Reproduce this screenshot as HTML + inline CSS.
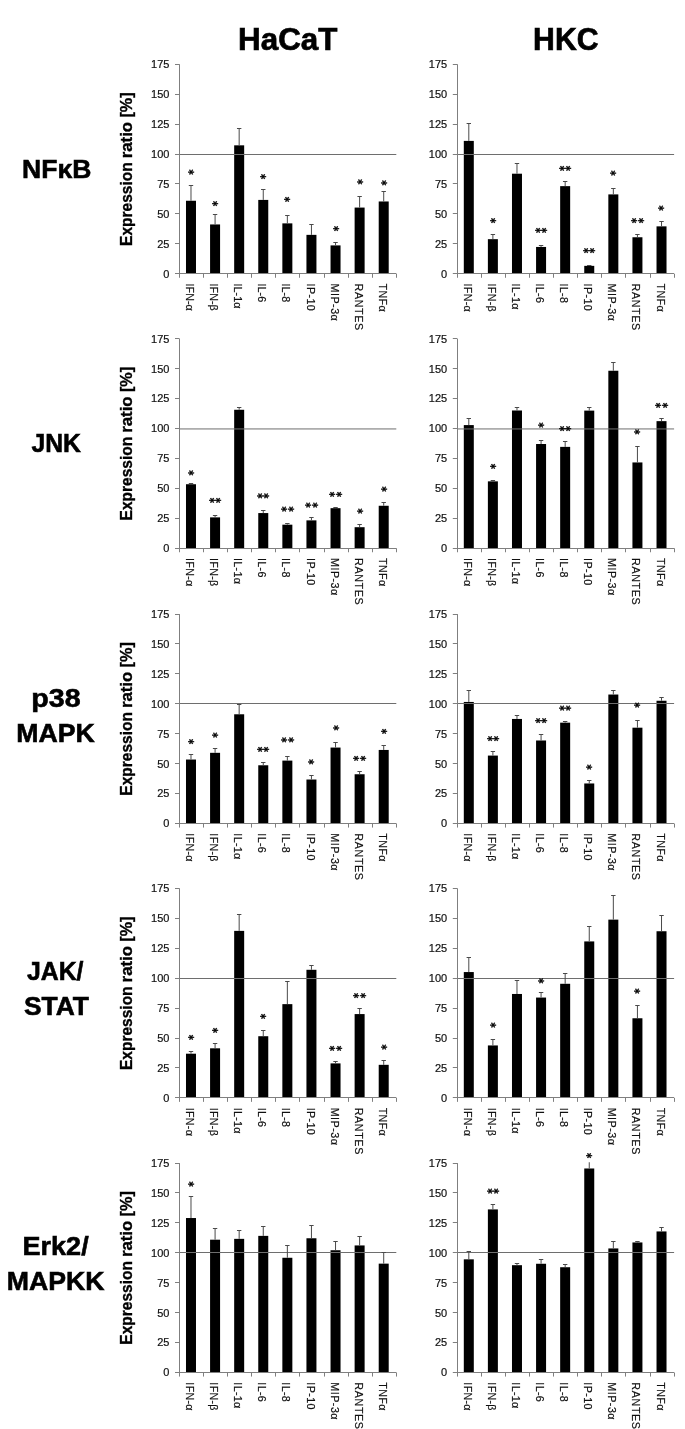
<!DOCTYPE html>
<html lang="en"><head><meta charset="utf-8"><title>Expression ratio - HaCaT / HKC</title>
<style>
html,body{margin:0;padding:0;background:#fff;}
body{width:685px;height:1429px;overflow:hidden;font-family:"Liberation Sans",sans-serif;}
svg{display:block;}
</style></head><body>
<svg width="685" height="1429" viewBox="0 0 685 1429" font-family="'Liberation Sans', sans-serif">
<rect width="685" height="1429" fill="#fff"/>
<text x="287.8" y="50.3" font-size="32" font-weight="bold" text-anchor="middle" textLength="99.4" lengthAdjust="spacingAndGlyphs" stroke="#000" stroke-width="0.7">HaCaT</text>
<text x="565.8" y="50.3" font-size="32" font-weight="bold" text-anchor="middle" textLength="65.4" lengthAdjust="spacingAndGlyphs" stroke="#000" stroke-width="0.7">HKC</text>
<text x="56.7" y="177.6" font-size="26.3" font-weight="bold" text-anchor="middle" textLength="69.3" lengthAdjust="spacingAndGlyphs" stroke="#000" stroke-width="0.6">NFκB</text>
<text x="56.2" y="452.1" font-size="26.3" font-weight="bold" text-anchor="middle" textLength="49.5" lengthAdjust="spacingAndGlyphs" stroke="#000" stroke-width="0.6">JNK</text>
<text x="56.0" y="706.5" font-size="26.3" font-weight="bold" text-anchor="middle" textLength="49.3" lengthAdjust="spacingAndGlyphs" stroke="#000" stroke-width="0.6">p38</text>
<text x="55.5" y="741.5" font-size="26.3" font-weight="bold" text-anchor="middle" textLength="78.5" lengthAdjust="spacingAndGlyphs" stroke="#000" stroke-width="0.6">MAPK</text>
<text x="55.2" y="980.4" font-size="26.3" font-weight="bold" text-anchor="middle" textLength="56.6" lengthAdjust="spacingAndGlyphs" stroke="#000" stroke-width="0.6">JAK/</text>
<text x="56.4" y="1015.1" font-size="26.3" font-weight="bold" text-anchor="middle" textLength="65.0" lengthAdjust="spacingAndGlyphs" stroke="#000" stroke-width="0.6">STAT</text>
<text x="55.6" y="1255.2" font-size="26.3" font-weight="bold" text-anchor="middle" textLength="66.1" lengthAdjust="spacingAndGlyphs" stroke="#000" stroke-width="0.6">Erk2/</text>
<text x="55.6" y="1290.3" font-size="26.3" font-weight="bold" text-anchor="middle" textLength="97.7" lengthAdjust="spacingAndGlyphs" stroke="#000" stroke-width="0.6">MAPKK</text>
<text transform="translate(131.8,244.9) rotate(-90)" font-size="16.2" font-weight="bold" stroke="#000" stroke-width="0.35"><tspan x="-1" textLength="83.6" lengthAdjust="spacingAndGlyphs">Expression</tspan><tspan> </tspan><tspan x="86.6" textLength="36.4" lengthAdjust="spacingAndGlyphs">ratio</tspan><tspan> </tspan><tspan x="127.3" textLength="25.2" lengthAdjust="spacingAndGlyphs">[%]</tspan></text>
<rect x="185.99" y="200.75" width="10.00" height="73.02" fill="#000"/>
<rect x="210.08" y="224.45" width="10.00" height="49.32" fill="#000"/>
<rect x="234.17" y="145.33" width="10.00" height="128.44" fill="#000"/>
<rect x="258.26" y="199.91" width="10.00" height="73.85" fill="#000"/>
<rect x="282.35" y="223.37" width="10.00" height="50.39" fill="#000"/>
<rect x="306.44" y="234.86" width="10.00" height="38.90" fill="#000"/>
<rect x="330.54" y="245.40" width="10.00" height="28.37" fill="#000"/>
<rect x="354.62" y="207.57" width="10.00" height="66.19" fill="#000"/>
<rect x="378.71" y="201.47" width="10.00" height="72.30" fill="#000"/>
<line x1="179.5" y1="154.50" x2="396.3" y2="154.50" stroke="#6e6e6e" stroke-width="1"/>
<line x1="190.99" y1="200.75" x2="190.99" y2="185.79" stroke="#4a4a4a" stroke-width="1"/>
<line x1="188.79" y1="185.50" x2="193.19" y2="185.50" stroke="#4a4a4a" stroke-width="1"/>
<text x="-3.12" y="6.12" transform="translate(191.09 172.14) scale(1.0 0.82) rotate(90)" font-family="'DejaVu Sans', sans-serif" font-size="12.0" font-weight="bold" stroke="#000" stroke-width="0.35">*</text>
<line x1="215.08" y1="224.45" x2="215.08" y2="214.63" stroke="#4a4a4a" stroke-width="1"/>
<line x1="212.88" y1="214.50" x2="217.28" y2="214.50" stroke="#4a4a4a" stroke-width="1"/>
<text x="-3.12" y="6.12" transform="translate(215.18 203.50) scale(1.0 0.82) rotate(90)" font-family="'DejaVu Sans', sans-serif" font-size="12.0" font-weight="bold" stroke="#000" stroke-width="0.35">*</text>
<line x1="239.17" y1="145.33" x2="239.17" y2="128.33" stroke="#4a4a4a" stroke-width="1"/>
<line x1="236.97" y1="128.50" x2="241.37" y2="128.50" stroke="#4a4a4a" stroke-width="1"/>
<line x1="263.26" y1="199.91" x2="263.26" y2="189.74" stroke="#4a4a4a" stroke-width="1"/>
<line x1="261.06" y1="189.50" x2="265.46" y2="189.50" stroke="#4a4a4a" stroke-width="1"/>
<text x="-3.12" y="6.12" transform="translate(263.37 176.57) scale(1.0 0.82) rotate(90)" font-family="'DejaVu Sans', sans-serif" font-size="12.0" font-weight="bold" stroke="#000" stroke-width="0.35">*</text>
<line x1="287.35" y1="223.37" x2="287.35" y2="215.71" stroke="#4a4a4a" stroke-width="1"/>
<line x1="285.15" y1="215.50" x2="289.55" y2="215.50" stroke="#4a4a4a" stroke-width="1"/>
<text x="-3.12" y="6.12" transform="translate(287.45 199.31) scale(1.0 0.82) rotate(90)" font-family="'DejaVu Sans', sans-serif" font-size="12.0" font-weight="bold" stroke="#000" stroke-width="0.35">*</text>
<line x1="311.44" y1="234.86" x2="311.44" y2="224.09" stroke="#4a4a4a" stroke-width="1"/>
<line x1="309.25" y1="224.50" x2="313.64" y2="224.50" stroke="#4a4a4a" stroke-width="1"/>
<line x1="335.54" y1="245.40" x2="335.54" y2="242.64" stroke="#4a4a4a" stroke-width="1"/>
<line x1="333.34" y1="242.50" x2="337.74" y2="242.50" stroke="#4a4a4a" stroke-width="1"/>
<text x="-3.12" y="6.12" transform="translate(335.64 228.52) scale(1.0 0.82) rotate(90)" font-family="'DejaVu Sans', sans-serif" font-size="12.0" font-weight="bold" stroke="#000" stroke-width="0.35">*</text>
<line x1="359.62" y1="207.57" x2="359.62" y2="196.80" stroke="#4a4a4a" stroke-width="1"/>
<line x1="357.43" y1="196.50" x2="361.82" y2="196.50" stroke="#4a4a4a" stroke-width="1"/>
<text x="-3.12" y="6.12" transform="translate(359.73 181.83) scale(1.0 0.82) rotate(90)" font-family="'DejaVu Sans', sans-serif" font-size="12.0" font-weight="bold" stroke="#000" stroke-width="0.35">*</text>
<line x1="383.71" y1="201.47" x2="383.71" y2="191.17" stroke="#4a4a4a" stroke-width="1"/>
<line x1="381.51" y1="191.50" x2="385.91" y2="191.50" stroke="#4a4a4a" stroke-width="1"/>
<text x="-3.12" y="6.12" transform="translate(383.81 182.91) scale(1.0 0.82) rotate(90)" font-family="'DejaVu Sans', sans-serif" font-size="12.0" font-weight="bold" stroke="#000" stroke-width="0.35">*</text>
<line x1="179.5" y1="64.29" x2="179.5" y2="277.77" stroke="#7f7f7f" stroke-width="1"/>
<line x1="175.0" y1="273.50" x2="396.3" y2="273.50" stroke="#7f7f7f" stroke-width="1"/>
<text x="169.4" y="277.62" font-size="11.0" text-anchor="end" fill="#111" stroke="#111" stroke-width="0.2">0</text>
<line x1="175.0" y1="243.50" x2="179.5" y2="243.50" stroke="#7f7f7f" stroke-width="1"/>
<text x="169.4" y="247.69" font-size="11.0" text-anchor="end" fill="#111" stroke="#111" stroke-width="0.2">25</text>
<line x1="175.0" y1="213.50" x2="179.5" y2="213.50" stroke="#7f7f7f" stroke-width="1"/>
<text x="169.4" y="217.76" font-size="11.0" text-anchor="end" fill="#111" stroke="#111" stroke-width="0.2">50</text>
<line x1="175.0" y1="183.50" x2="179.5" y2="183.50" stroke="#7f7f7f" stroke-width="1"/>
<text x="169.4" y="187.83" font-size="11.0" text-anchor="end" fill="#111" stroke="#111" stroke-width="0.2">75</text>
<line x1="175.0" y1="154.50" x2="179.5" y2="154.50" stroke="#7f7f7f" stroke-width="1"/>
<text x="169.4" y="157.90" font-size="11.0" text-anchor="end" fill="#111" stroke="#111" stroke-width="0.2">100</text>
<line x1="175.0" y1="124.50" x2="179.5" y2="124.50" stroke="#7f7f7f" stroke-width="1"/>
<text x="169.4" y="127.97" font-size="11.0" text-anchor="end" fill="#111" stroke="#111" stroke-width="0.2">125</text>
<line x1="175.0" y1="94.50" x2="179.5" y2="94.50" stroke="#7f7f7f" stroke-width="1"/>
<text x="169.4" y="98.04" font-size="11.0" text-anchor="end" fill="#111" stroke="#111" stroke-width="0.2">150</text>
<line x1="175.0" y1="64.50" x2="179.5" y2="64.50" stroke="#7f7f7f" stroke-width="1"/>
<text x="169.4" y="68.11" font-size="11.0" text-anchor="end" fill="#111" stroke="#111" stroke-width="0.2">175</text>
<line x1="203.50" y1="273.77" x2="203.50" y2="277.77" stroke="#7f7f7f" stroke-width="1"/>
<line x1="227.50" y1="273.77" x2="227.50" y2="277.77" stroke="#7f7f7f" stroke-width="1"/>
<line x1="251.50" y1="273.77" x2="251.50" y2="277.77" stroke="#7f7f7f" stroke-width="1"/>
<line x1="275.50" y1="273.77" x2="275.50" y2="277.77" stroke="#7f7f7f" stroke-width="1"/>
<line x1="299.50" y1="273.77" x2="299.50" y2="277.77" stroke="#7f7f7f" stroke-width="1"/>
<line x1="324.50" y1="273.77" x2="324.50" y2="277.77" stroke="#7f7f7f" stroke-width="1"/>
<line x1="348.50" y1="273.77" x2="348.50" y2="277.77" stroke="#7f7f7f" stroke-width="1"/>
<line x1="372.50" y1="273.77" x2="372.50" y2="277.77" stroke="#7f7f7f" stroke-width="1"/>
<line x1="396.50" y1="273.77" x2="396.50" y2="277.77" stroke="#7f7f7f" stroke-width="1"/>
<text transform="translate(186.04,283.57) rotate(90)" font-size="10.7" fill="#111" stroke="#111" stroke-width="0.2" letter-spacing="0.05">IFN-α</text>
<text transform="translate(210.13,283.57) rotate(90)" font-size="10.7" fill="#111" stroke="#111" stroke-width="0.2" letter-spacing="0.05">IFN-β</text>
<text transform="translate(234.22,283.57) rotate(90)" font-size="10.7" fill="#111" stroke="#111" stroke-width="0.2" letter-spacing="0.05">IL-1α</text>
<text transform="translate(258.31,283.57) rotate(90)" font-size="10.7" fill="#111" stroke="#111" stroke-width="0.2" letter-spacing="0.05">IL-6</text>
<text transform="translate(282.40,283.57) rotate(90)" font-size="10.7" fill="#111" stroke="#111" stroke-width="0.2" letter-spacing="0.05">IL-8</text>
<text transform="translate(306.50,283.57) rotate(90)" font-size="10.7" fill="#111" stroke="#111" stroke-width="0.2" letter-spacing="0.40">IP-10</text>
<text transform="translate(330.59,283.57) rotate(90)" font-size="10.7" fill="#111" stroke="#111" stroke-width="0.2" letter-spacing="0.50">MIP-3α</text>
<text transform="translate(354.68,283.57) rotate(90)" font-size="10.7" fill="#111" stroke="#111" stroke-width="0.2" letter-spacing="0.65">RANTES</text>
<text transform="translate(378.76,283.57) rotate(90)" font-size="10.7" fill="#111" stroke="#111" stroke-width="0.2" letter-spacing="0.35">TNFα</text>
<rect x="463.80" y="140.90" width="10.00" height="132.87" fill="#000"/>
<rect x="487.88" y="239.17" width="10.00" height="34.59" fill="#000"/>
<rect x="511.98" y="173.70" width="10.00" height="100.07" fill="#000"/>
<rect x="536.07" y="246.95" width="10.00" height="26.81" fill="#000"/>
<rect x="560.16" y="186.14" width="10.00" height="87.62" fill="#000"/>
<rect x="584.25" y="265.86" width="10.00" height="7.90" fill="#000"/>
<rect x="608.34" y="194.40" width="10.00" height="79.36" fill="#000"/>
<rect x="632.43" y="237.26" width="10.00" height="36.51" fill="#000"/>
<rect x="656.52" y="226.36" width="10.00" height="47.40" fill="#000"/>
<line x1="457.3" y1="154.50" x2="674.1" y2="154.50" stroke="#6e6e6e" stroke-width="1"/>
<line x1="468.80" y1="140.90" x2="468.80" y2="123.18" stroke="#4a4a4a" stroke-width="1"/>
<line x1="466.60" y1="123.50" x2="471.00" y2="123.50" stroke="#4a4a4a" stroke-width="1"/>
<line x1="492.88" y1="239.17" x2="492.88" y2="234.62" stroke="#4a4a4a" stroke-width="1"/>
<line x1="490.69" y1="234.50" x2="495.08" y2="234.50" stroke="#4a4a4a" stroke-width="1"/>
<text x="-3.12" y="6.12" transform="translate(492.99 220.50) scale(1.0 0.82) rotate(90)" font-family="'DejaVu Sans', sans-serif" font-size="12.0" font-weight="bold" stroke="#000" stroke-width="0.35">*</text>
<line x1="516.98" y1="173.70" x2="516.98" y2="163.40" stroke="#4a4a4a" stroke-width="1"/>
<line x1="514.77" y1="163.50" x2="519.18" y2="163.50" stroke="#4a4a4a" stroke-width="1"/>
<line x1="541.07" y1="246.95" x2="541.07" y2="245.87" stroke="#4a4a4a" stroke-width="1"/>
<line x1="538.87" y1="245.50" x2="543.27" y2="245.50" stroke="#4a4a4a" stroke-width="1"/>
<text x="-3.12" y="6.12" transform="translate(537.92 230.19) scale(1.0 0.82) rotate(90)" font-family="'DejaVu Sans', sans-serif" font-size="12.0" font-weight="bold" stroke="#000" stroke-width="0.35">*</text>
<text x="-3.12" y="6.12" transform="translate(544.42 230.19) scale(1.0 0.82) rotate(90)" font-family="'DejaVu Sans', sans-serif" font-size="12.0" font-weight="bold" stroke="#000" stroke-width="0.35">*</text>
<line x1="565.16" y1="186.14" x2="565.16" y2="181.60" stroke="#4a4a4a" stroke-width="1"/>
<line x1="562.96" y1="181.50" x2="567.36" y2="181.50" stroke="#4a4a4a" stroke-width="1"/>
<text x="-3.12" y="6.12" transform="translate(562.01 168.19) scale(1.0 0.82) rotate(90)" font-family="'DejaVu Sans', sans-serif" font-size="12.0" font-weight="bold" stroke="#000" stroke-width="0.35">*</text>
<text x="-3.12" y="6.12" transform="translate(568.51 168.19) scale(1.0 0.82) rotate(90)" font-family="'DejaVu Sans', sans-serif" font-size="12.0" font-weight="bold" stroke="#000" stroke-width="0.35">*</text>
<line x1="589.25" y1="265.86" x2="589.25" y2="265.15" stroke="#4a4a4a" stroke-width="1"/>
<line x1="587.05" y1="265.50" x2="591.45" y2="265.50" stroke="#4a4a4a" stroke-width="1"/>
<text x="-3.12" y="6.12" transform="translate(586.10 250.66) scale(1.0 0.82) rotate(90)" font-family="'DejaVu Sans', sans-serif" font-size="12.0" font-weight="bold" stroke="#000" stroke-width="0.35">*</text>
<text x="-3.12" y="6.12" transform="translate(592.60 250.66) scale(1.0 0.82) rotate(90)" font-family="'DejaVu Sans', sans-serif" font-size="12.0" font-weight="bold" stroke="#000" stroke-width="0.35">*</text>
<line x1="613.34" y1="194.40" x2="613.34" y2="188.06" stroke="#4a4a4a" stroke-width="1"/>
<line x1="611.13" y1="188.50" x2="615.54" y2="188.50" stroke="#4a4a4a" stroke-width="1"/>
<text x="-3.12" y="6.12" transform="translate(613.44 173.10) scale(1.0 0.82) rotate(90)" font-family="'DejaVu Sans', sans-serif" font-size="12.0" font-weight="bold" stroke="#000" stroke-width="0.35">*</text>
<line x1="637.43" y1="237.26" x2="637.43" y2="234.62" stroke="#4a4a4a" stroke-width="1"/>
<line x1="635.23" y1="234.50" x2="639.63" y2="234.50" stroke="#4a4a4a" stroke-width="1"/>
<text x="-3.12" y="6.12" transform="translate(634.28 220.50) scale(1.0 0.82) rotate(90)" font-family="'DejaVu Sans', sans-serif" font-size="12.0" font-weight="bold" stroke="#000" stroke-width="0.35">*</text>
<text x="-3.12" y="6.12" transform="translate(640.78 220.50) scale(1.0 0.82) rotate(90)" font-family="'DejaVu Sans', sans-serif" font-size="12.0" font-weight="bold" stroke="#000" stroke-width="0.35">*</text>
<line x1="661.52" y1="226.36" x2="661.52" y2="221.10" stroke="#4a4a4a" stroke-width="1"/>
<line x1="659.32" y1="221.50" x2="663.72" y2="221.50" stroke="#4a4a4a" stroke-width="1"/>
<text x="-3.12" y="6.12" transform="translate(661.62 208.17) scale(1.0 0.82) rotate(90)" font-family="'DejaVu Sans', sans-serif" font-size="12.0" font-weight="bold" stroke="#000" stroke-width="0.35">*</text>
<line x1="457.5" y1="64.29" x2="457.5" y2="277.77" stroke="#7f7f7f" stroke-width="1"/>
<line x1="452.8" y1="273.50" x2="674.1" y2="273.50" stroke="#7f7f7f" stroke-width="1"/>
<text x="447.2" y="277.62" font-size="11.0" text-anchor="end" fill="#111" stroke="#111" stroke-width="0.2">0</text>
<line x1="452.8" y1="243.50" x2="457.3" y2="243.50" stroke="#7f7f7f" stroke-width="1"/>
<text x="447.2" y="247.69" font-size="11.0" text-anchor="end" fill="#111" stroke="#111" stroke-width="0.2">25</text>
<line x1="452.8" y1="213.50" x2="457.3" y2="213.50" stroke="#7f7f7f" stroke-width="1"/>
<text x="447.2" y="217.76" font-size="11.0" text-anchor="end" fill="#111" stroke="#111" stroke-width="0.2">50</text>
<line x1="452.8" y1="183.50" x2="457.3" y2="183.50" stroke="#7f7f7f" stroke-width="1"/>
<text x="447.2" y="187.83" font-size="11.0" text-anchor="end" fill="#111" stroke="#111" stroke-width="0.2">75</text>
<line x1="452.8" y1="154.50" x2="457.3" y2="154.50" stroke="#7f7f7f" stroke-width="1"/>
<text x="447.2" y="157.90" font-size="11.0" text-anchor="end" fill="#111" stroke="#111" stroke-width="0.2">100</text>
<line x1="452.8" y1="124.50" x2="457.3" y2="124.50" stroke="#7f7f7f" stroke-width="1"/>
<text x="447.2" y="127.97" font-size="11.0" text-anchor="end" fill="#111" stroke="#111" stroke-width="0.2">125</text>
<line x1="452.8" y1="94.50" x2="457.3" y2="94.50" stroke="#7f7f7f" stroke-width="1"/>
<text x="447.2" y="98.04" font-size="11.0" text-anchor="end" fill="#111" stroke="#111" stroke-width="0.2">150</text>
<line x1="452.8" y1="64.50" x2="457.3" y2="64.50" stroke="#7f7f7f" stroke-width="1"/>
<text x="447.2" y="68.11" font-size="11.0" text-anchor="end" fill="#111" stroke="#111" stroke-width="0.2">175</text>
<line x1="481.50" y1="273.77" x2="481.50" y2="277.77" stroke="#7f7f7f" stroke-width="1"/>
<line x1="505.50" y1="273.77" x2="505.50" y2="277.77" stroke="#7f7f7f" stroke-width="1"/>
<line x1="529.50" y1="273.77" x2="529.50" y2="277.77" stroke="#7f7f7f" stroke-width="1"/>
<line x1="553.50" y1="273.77" x2="553.50" y2="277.77" stroke="#7f7f7f" stroke-width="1"/>
<line x1="577.50" y1="273.77" x2="577.50" y2="277.77" stroke="#7f7f7f" stroke-width="1"/>
<line x1="601.50" y1="273.77" x2="601.50" y2="277.77" stroke="#7f7f7f" stroke-width="1"/>
<line x1="625.50" y1="273.77" x2="625.50" y2="277.77" stroke="#7f7f7f" stroke-width="1"/>
<line x1="650.50" y1="273.77" x2="650.50" y2="277.77" stroke="#7f7f7f" stroke-width="1"/>
<line x1="674.50" y1="273.77" x2="674.50" y2="277.77" stroke="#7f7f7f" stroke-width="1"/>
<text transform="translate(463.85,283.57) rotate(90)" font-size="10.7" fill="#111" stroke="#111" stroke-width="0.2" letter-spacing="0.30">IFN-α</text>
<text transform="translate(487.94,283.57) rotate(90)" font-size="10.7" fill="#111" stroke="#111" stroke-width="0.2" letter-spacing="0.30">IFN-β</text>
<text transform="translate(512.02,283.57) rotate(90)" font-size="10.7" fill="#111" stroke="#111" stroke-width="0.2" letter-spacing="0.30">IL-1α</text>
<text transform="translate(536.12,283.57) rotate(90)" font-size="10.7" fill="#111" stroke="#111" stroke-width="0.2" letter-spacing="0.30">IL-6</text>
<text transform="translate(560.21,283.57) rotate(90)" font-size="10.7" fill="#111" stroke="#111" stroke-width="0.2" letter-spacing="0.30">IL-8</text>
<text transform="translate(584.30,283.57) rotate(90)" font-size="10.7" fill="#111" stroke="#111" stroke-width="0.2" letter-spacing="0.40">IP-10</text>
<text transform="translate(608.38,283.57) rotate(90)" font-size="10.7" fill="#111" stroke="#111" stroke-width="0.2" letter-spacing="0.50">MIP-3α</text>
<text transform="translate(632.48,283.57) rotate(90)" font-size="10.7" fill="#111" stroke="#111" stroke-width="0.2" letter-spacing="0.65">RANTES</text>
<text transform="translate(656.57,283.57) rotate(90)" font-size="10.7" fill="#111" stroke="#111" stroke-width="0.2" letter-spacing="0.35">TNFα</text>
<text transform="translate(131.8,519.4) rotate(-90)" font-size="16.2" font-weight="bold" stroke="#000" stroke-width="0.35"><tspan x="-1" textLength="83.6" lengthAdjust="spacingAndGlyphs">Expression</tspan><tspan> </tspan><tspan x="86.6" textLength="36.4" lengthAdjust="spacingAndGlyphs">ratio</tspan><tspan> </tspan><tspan x="127.3" textLength="25.2" lengthAdjust="spacingAndGlyphs">[%]</tspan></text>
<rect x="185.99" y="484.23" width="10.00" height="64.04" fill="#000"/>
<rect x="210.08" y="517.38" width="10.00" height="30.88" fill="#000"/>
<rect x="234.17" y="409.77" width="10.00" height="138.49" fill="#000"/>
<rect x="258.26" y="513.07" width="10.00" height="35.19" fill="#000"/>
<rect x="282.35" y="524.68" width="10.00" height="23.58" fill="#000"/>
<rect x="306.44" y="520.37" width="10.00" height="27.89" fill="#000"/>
<rect x="330.54" y="508.17" width="10.00" height="40.10" fill="#000"/>
<rect x="354.62" y="527.20" width="10.00" height="21.07" fill="#000"/>
<rect x="378.71" y="505.77" width="10.00" height="42.49" fill="#000"/>
<line x1="179.5" y1="428.95" x2="396.3" y2="428.95" stroke="#6e6e6e" stroke-width="1"/>
<line x1="190.99" y1="484.23" x2="190.99" y2="483.27" stroke="#4a4a4a" stroke-width="1"/>
<line x1="188.79" y1="483.50" x2="193.19" y2="483.50" stroke="#4a4a4a" stroke-width="1"/>
<text x="-3.12" y="6.12" transform="translate(191.09 472.73) scale(1.0 0.82) rotate(90)" font-family="'DejaVu Sans', sans-serif" font-size="12.0" font-weight="bold" stroke="#000" stroke-width="0.35">*</text>
<line x1="215.08" y1="517.38" x2="215.08" y2="515.23" stroke="#4a4a4a" stroke-width="1"/>
<line x1="212.88" y1="515.50" x2="217.28" y2="515.50" stroke="#4a4a4a" stroke-width="1"/>
<text x="-3.12" y="6.12" transform="translate(211.93 500.26) scale(1.0 0.82) rotate(90)" font-family="'DejaVu Sans', sans-serif" font-size="12.0" font-weight="bold" stroke="#000" stroke-width="0.35">*</text>
<text x="-3.12" y="6.12" transform="translate(218.43 500.26) scale(1.0 0.82) rotate(90)" font-family="'DejaVu Sans', sans-serif" font-size="12.0" font-weight="bold" stroke="#000" stroke-width="0.35">*</text>
<line x1="239.17" y1="409.77" x2="239.17" y2="407.62" stroke="#4a4a4a" stroke-width="1"/>
<line x1="236.97" y1="407.50" x2="241.37" y2="407.50" stroke="#4a4a4a" stroke-width="1"/>
<line x1="263.26" y1="513.07" x2="263.26" y2="510.44" stroke="#4a4a4a" stroke-width="1"/>
<line x1="261.06" y1="510.50" x2="265.46" y2="510.50" stroke="#4a4a4a" stroke-width="1"/>
<text x="-3.12" y="6.12" transform="translate(260.12 495.83) scale(1.0 0.82) rotate(90)" font-family="'DejaVu Sans', sans-serif" font-size="12.0" font-weight="bold" stroke="#000" stroke-width="0.35">*</text>
<text x="-3.12" y="6.12" transform="translate(266.62 495.83) scale(1.0 0.82) rotate(90)" font-family="'DejaVu Sans', sans-serif" font-size="12.0" font-weight="bold" stroke="#000" stroke-width="0.35">*</text>
<line x1="287.35" y1="524.68" x2="287.35" y2="523.85" stroke="#4a4a4a" stroke-width="1"/>
<line x1="285.15" y1="523.50" x2="289.55" y2="523.50" stroke="#4a4a4a" stroke-width="1"/>
<text x="-3.12" y="6.12" transform="translate(284.20 509.00) scale(1.0 0.82) rotate(90)" font-family="'DejaVu Sans', sans-serif" font-size="12.0" font-weight="bold" stroke="#000" stroke-width="0.35">*</text>
<text x="-3.12" y="6.12" transform="translate(290.70 509.00) scale(1.0 0.82) rotate(90)" font-family="'DejaVu Sans', sans-serif" font-size="12.0" font-weight="bold" stroke="#000" stroke-width="0.35">*</text>
<line x1="311.44" y1="520.37" x2="311.44" y2="517.86" stroke="#4a4a4a" stroke-width="1"/>
<line x1="309.25" y1="517.50" x2="313.64" y2="517.50" stroke="#4a4a4a" stroke-width="1"/>
<text x="-3.12" y="6.12" transform="translate(308.30 505.17) scale(1.0 0.82) rotate(90)" font-family="'DejaVu Sans', sans-serif" font-size="12.0" font-weight="bold" stroke="#000" stroke-width="0.35">*</text>
<text x="-3.12" y="6.12" transform="translate(314.80 505.17) scale(1.0 0.82) rotate(90)" font-family="'DejaVu Sans', sans-serif" font-size="12.0" font-weight="bold" stroke="#000" stroke-width="0.35">*</text>
<line x1="335.54" y1="508.17" x2="335.54" y2="507.33" stroke="#4a4a4a" stroke-width="1"/>
<line x1="333.34" y1="507.50" x2="337.74" y2="507.50" stroke="#4a4a4a" stroke-width="1"/>
<text x="-3.12" y="6.12" transform="translate(332.39 494.40) scale(1.0 0.82) rotate(90)" font-family="'DejaVu Sans', sans-serif" font-size="12.0" font-weight="bold" stroke="#000" stroke-width="0.35">*</text>
<text x="-3.12" y="6.12" transform="translate(338.89 494.40) scale(1.0 0.82) rotate(90)" font-family="'DejaVu Sans', sans-serif" font-size="12.0" font-weight="bold" stroke="#000" stroke-width="0.35">*</text>
<line x1="359.62" y1="527.20" x2="359.62" y2="524.56" stroke="#4a4a4a" stroke-width="1"/>
<line x1="357.43" y1="524.50" x2="361.82" y2="524.50" stroke="#4a4a4a" stroke-width="1"/>
<text x="-3.12" y="6.12" transform="translate(359.73 511.16) scale(1.0 0.82) rotate(90)" font-family="'DejaVu Sans', sans-serif" font-size="12.0" font-weight="bold" stroke="#000" stroke-width="0.35">*</text>
<line x1="383.71" y1="505.77" x2="383.71" y2="502.54" stroke="#4a4a4a" stroke-width="1"/>
<line x1="381.51" y1="502.50" x2="385.91" y2="502.50" stroke="#4a4a4a" stroke-width="1"/>
<text x="-3.12" y="6.12" transform="translate(383.81 489.13) scale(1.0 0.82) rotate(90)" font-family="'DejaVu Sans', sans-serif" font-size="12.0" font-weight="bold" stroke="#000" stroke-width="0.35">*</text>
<line x1="179.5" y1="338.79" x2="179.5" y2="552.26" stroke="#7f7f7f" stroke-width="1"/>
<line x1="175.0" y1="548.50" x2="396.3" y2="548.50" stroke="#7f7f7f" stroke-width="1"/>
<text x="169.4" y="552.12" font-size="11.0" text-anchor="end" fill="#111" stroke="#111" stroke-width="0.2">0</text>
<line x1="175.0" y1="518.50" x2="179.5" y2="518.50" stroke="#7f7f7f" stroke-width="1"/>
<text x="169.4" y="522.19" font-size="11.0" text-anchor="end" fill="#111" stroke="#111" stroke-width="0.2">25</text>
<line x1="175.0" y1="488.50" x2="179.5" y2="488.50" stroke="#7f7f7f" stroke-width="1"/>
<text x="169.4" y="492.25" font-size="11.0" text-anchor="end" fill="#111" stroke="#111" stroke-width="0.2">50</text>
<line x1="175.0" y1="458.50" x2="179.5" y2="458.50" stroke="#7f7f7f" stroke-width="1"/>
<text x="169.4" y="462.33" font-size="11.0" text-anchor="end" fill="#111" stroke="#111" stroke-width="0.2">75</text>
<line x1="175.0" y1="428.50" x2="179.5" y2="428.50" stroke="#7f7f7f" stroke-width="1"/>
<text x="169.4" y="432.39" font-size="11.0" text-anchor="end" fill="#111" stroke="#111" stroke-width="0.2">100</text>
<line x1="175.0" y1="398.50" x2="179.5" y2="398.50" stroke="#7f7f7f" stroke-width="1"/>
<text x="169.4" y="402.47" font-size="11.0" text-anchor="end" fill="#111" stroke="#111" stroke-width="0.2">125</text>
<line x1="175.0" y1="368.50" x2="179.5" y2="368.50" stroke="#7f7f7f" stroke-width="1"/>
<text x="169.4" y="372.54" font-size="11.0" text-anchor="end" fill="#111" stroke="#111" stroke-width="0.2">150</text>
<line x1="175.0" y1="338.50" x2="179.5" y2="338.50" stroke="#7f7f7f" stroke-width="1"/>
<text x="169.4" y="342.61" font-size="11.0" text-anchor="end" fill="#111" stroke="#111" stroke-width="0.2">175</text>
<line x1="203.50" y1="548.26" x2="203.50" y2="552.26" stroke="#7f7f7f" stroke-width="1"/>
<line x1="227.50" y1="548.26" x2="227.50" y2="552.26" stroke="#7f7f7f" stroke-width="1"/>
<line x1="251.50" y1="548.26" x2="251.50" y2="552.26" stroke="#7f7f7f" stroke-width="1"/>
<line x1="275.50" y1="548.26" x2="275.50" y2="552.26" stroke="#7f7f7f" stroke-width="1"/>
<line x1="299.50" y1="548.26" x2="299.50" y2="552.26" stroke="#7f7f7f" stroke-width="1"/>
<line x1="324.50" y1="548.26" x2="324.50" y2="552.26" stroke="#7f7f7f" stroke-width="1"/>
<line x1="348.50" y1="548.26" x2="348.50" y2="552.26" stroke="#7f7f7f" stroke-width="1"/>
<line x1="372.50" y1="548.26" x2="372.50" y2="552.26" stroke="#7f7f7f" stroke-width="1"/>
<line x1="396.50" y1="548.26" x2="396.50" y2="552.26" stroke="#7f7f7f" stroke-width="1"/>
<text transform="translate(186.04,558.06) rotate(90)" font-size="10.7" fill="#111" stroke="#111" stroke-width="0.2" letter-spacing="0.30">IFN-α</text>
<text transform="translate(210.13,558.06) rotate(90)" font-size="10.7" fill="#111" stroke="#111" stroke-width="0.2" letter-spacing="0.30">IFN-β</text>
<text transform="translate(234.22,558.06) rotate(90)" font-size="10.7" fill="#111" stroke="#111" stroke-width="0.2" letter-spacing="0.30">IL-1α</text>
<text transform="translate(258.31,558.06) rotate(90)" font-size="10.7" fill="#111" stroke="#111" stroke-width="0.2" letter-spacing="0.30">IL-6</text>
<text transform="translate(282.40,558.06) rotate(90)" font-size="10.7" fill="#111" stroke="#111" stroke-width="0.2" letter-spacing="0.30">IL-8</text>
<text transform="translate(306.50,558.06) rotate(90)" font-size="10.7" fill="#111" stroke="#111" stroke-width="0.2" letter-spacing="0.40">IP-10</text>
<text transform="translate(330.59,558.06) rotate(90)" font-size="10.7" fill="#111" stroke="#111" stroke-width="0.2" letter-spacing="0.50">MIP-3α</text>
<text transform="translate(354.68,558.06) rotate(90)" font-size="10.7" fill="#111" stroke="#111" stroke-width="0.2" letter-spacing="0.65">RANTES</text>
<text transform="translate(378.76,558.06) rotate(90)" font-size="10.7" fill="#111" stroke="#111" stroke-width="0.2" letter-spacing="0.35">TNFα</text>
<rect x="463.80" y="425.09" width="10.00" height="123.17" fill="#000"/>
<rect x="487.88" y="481.35" width="10.00" height="66.91" fill="#000"/>
<rect x="511.98" y="410.49" width="10.00" height="137.77" fill="#000"/>
<rect x="536.07" y="444.01" width="10.00" height="104.26" fill="#000"/>
<rect x="560.16" y="446.88" width="10.00" height="101.39" fill="#000"/>
<rect x="584.25" y="410.61" width="10.00" height="137.65" fill="#000"/>
<rect x="608.34" y="370.75" width="10.00" height="177.52" fill="#000"/>
<rect x="632.43" y="462.44" width="10.00" height="85.82" fill="#000"/>
<rect x="656.52" y="421.14" width="10.00" height="127.12" fill="#000"/>
<line x1="457.3" y1="428.95" x2="674.1" y2="428.95" stroke="#6e6e6e" stroke-width="1"/>
<line x1="468.80" y1="425.09" x2="468.80" y2="418.87" stroke="#4a4a4a" stroke-width="1"/>
<line x1="466.60" y1="418.50" x2="471.00" y2="418.50" stroke="#4a4a4a" stroke-width="1"/>
<line x1="492.88" y1="481.35" x2="492.88" y2="480.40" stroke="#4a4a4a" stroke-width="1"/>
<line x1="490.69" y1="480.50" x2="495.08" y2="480.50" stroke="#4a4a4a" stroke-width="1"/>
<text x="-3.12" y="6.12" transform="translate(492.99 466.27) scale(1.0 0.82) rotate(90)" font-family="'DejaVu Sans', sans-serif" font-size="12.0" font-weight="bold" stroke="#000" stroke-width="0.35">*</text>
<line x1="516.98" y1="410.49" x2="516.98" y2="407.62" stroke="#4a4a4a" stroke-width="1"/>
<line x1="514.77" y1="407.50" x2="519.18" y2="407.50" stroke="#4a4a4a" stroke-width="1"/>
<line x1="541.07" y1="444.01" x2="541.07" y2="440.53" stroke="#4a4a4a" stroke-width="1"/>
<line x1="538.87" y1="440.50" x2="543.27" y2="440.50" stroke="#4a4a4a" stroke-width="1"/>
<text x="-3.12" y="6.12" transform="translate(541.17 424.97) scale(1.0 0.82) rotate(90)" font-family="'DejaVu Sans', sans-serif" font-size="12.0" font-weight="bold" stroke="#000" stroke-width="0.35">*</text>
<line x1="565.16" y1="446.88" x2="565.16" y2="441.37" stroke="#4a4a4a" stroke-width="1"/>
<line x1="562.96" y1="441.50" x2="567.36" y2="441.50" stroke="#4a4a4a" stroke-width="1"/>
<text x="-3.12" y="6.12" transform="translate(562.01 428.44) scale(1.0 0.82) rotate(90)" font-family="'DejaVu Sans', sans-serif" font-size="12.0" font-weight="bold" stroke="#000" stroke-width="0.35">*</text>
<text x="-3.12" y="6.12" transform="translate(568.51 428.44) scale(1.0 0.82) rotate(90)" font-family="'DejaVu Sans', sans-serif" font-size="12.0" font-weight="bold" stroke="#000" stroke-width="0.35">*</text>
<line x1="589.25" y1="410.61" x2="589.25" y2="407.14" stroke="#4a4a4a" stroke-width="1"/>
<line x1="587.05" y1="407.50" x2="591.45" y2="407.50" stroke="#4a4a4a" stroke-width="1"/>
<line x1="613.34" y1="370.75" x2="613.34" y2="362.73" stroke="#4a4a4a" stroke-width="1"/>
<line x1="611.13" y1="362.50" x2="615.54" y2="362.50" stroke="#4a4a4a" stroke-width="1"/>
<line x1="637.43" y1="462.44" x2="637.43" y2="446.28" stroke="#4a4a4a" stroke-width="1"/>
<line x1="635.23" y1="446.50" x2="639.63" y2="446.50" stroke="#4a4a4a" stroke-width="1"/>
<text x="-3.12" y="6.12" transform="translate(637.53 431.68) scale(1.0 0.82) rotate(90)" font-family="'DejaVu Sans', sans-serif" font-size="12.0" font-weight="bold" stroke="#000" stroke-width="0.35">*</text>
<line x1="661.52" y1="421.14" x2="661.52" y2="418.03" stroke="#4a4a4a" stroke-width="1"/>
<line x1="659.32" y1="418.50" x2="663.72" y2="418.50" stroke="#4a4a4a" stroke-width="1"/>
<text x="-3.12" y="6.12" transform="translate(658.37 405.34) scale(1.0 0.82) rotate(90)" font-family="'DejaVu Sans', sans-serif" font-size="12.0" font-weight="bold" stroke="#000" stroke-width="0.35">*</text>
<text x="-3.12" y="6.12" transform="translate(664.87 405.34) scale(1.0 0.82) rotate(90)" font-family="'DejaVu Sans', sans-serif" font-size="12.0" font-weight="bold" stroke="#000" stroke-width="0.35">*</text>
<line x1="457.5" y1="338.79" x2="457.5" y2="552.26" stroke="#7f7f7f" stroke-width="1"/>
<line x1="452.8" y1="548.50" x2="674.1" y2="548.50" stroke="#7f7f7f" stroke-width="1"/>
<text x="447.2" y="552.12" font-size="11.0" text-anchor="end" fill="#111" stroke="#111" stroke-width="0.2">0</text>
<line x1="452.8" y1="518.50" x2="457.3" y2="518.50" stroke="#7f7f7f" stroke-width="1"/>
<text x="447.2" y="522.19" font-size="11.0" text-anchor="end" fill="#111" stroke="#111" stroke-width="0.2">25</text>
<line x1="452.8" y1="488.50" x2="457.3" y2="488.50" stroke="#7f7f7f" stroke-width="1"/>
<text x="447.2" y="492.25" font-size="11.0" text-anchor="end" fill="#111" stroke="#111" stroke-width="0.2">50</text>
<line x1="452.8" y1="458.50" x2="457.3" y2="458.50" stroke="#7f7f7f" stroke-width="1"/>
<text x="447.2" y="462.33" font-size="11.0" text-anchor="end" fill="#111" stroke="#111" stroke-width="0.2">75</text>
<line x1="452.8" y1="428.50" x2="457.3" y2="428.50" stroke="#7f7f7f" stroke-width="1"/>
<text x="447.2" y="432.39" font-size="11.0" text-anchor="end" fill="#111" stroke="#111" stroke-width="0.2">100</text>
<line x1="452.8" y1="398.50" x2="457.3" y2="398.50" stroke="#7f7f7f" stroke-width="1"/>
<text x="447.2" y="402.47" font-size="11.0" text-anchor="end" fill="#111" stroke="#111" stroke-width="0.2">125</text>
<line x1="452.8" y1="368.50" x2="457.3" y2="368.50" stroke="#7f7f7f" stroke-width="1"/>
<text x="447.2" y="372.54" font-size="11.0" text-anchor="end" fill="#111" stroke="#111" stroke-width="0.2">150</text>
<line x1="452.8" y1="338.50" x2="457.3" y2="338.50" stroke="#7f7f7f" stroke-width="1"/>
<text x="447.2" y="342.61" font-size="11.0" text-anchor="end" fill="#111" stroke="#111" stroke-width="0.2">175</text>
<line x1="481.50" y1="548.26" x2="481.50" y2="552.26" stroke="#7f7f7f" stroke-width="1"/>
<line x1="505.50" y1="548.26" x2="505.50" y2="552.26" stroke="#7f7f7f" stroke-width="1"/>
<line x1="529.50" y1="548.26" x2="529.50" y2="552.26" stroke="#7f7f7f" stroke-width="1"/>
<line x1="553.50" y1="548.26" x2="553.50" y2="552.26" stroke="#7f7f7f" stroke-width="1"/>
<line x1="577.50" y1="548.26" x2="577.50" y2="552.26" stroke="#7f7f7f" stroke-width="1"/>
<line x1="601.50" y1="548.26" x2="601.50" y2="552.26" stroke="#7f7f7f" stroke-width="1"/>
<line x1="625.50" y1="548.26" x2="625.50" y2="552.26" stroke="#7f7f7f" stroke-width="1"/>
<line x1="650.50" y1="548.26" x2="650.50" y2="552.26" stroke="#7f7f7f" stroke-width="1"/>
<line x1="674.50" y1="548.26" x2="674.50" y2="552.26" stroke="#7f7f7f" stroke-width="1"/>
<text transform="translate(463.85,558.06) rotate(90)" font-size="10.7" fill="#111" stroke="#111" stroke-width="0.2" letter-spacing="0.30">IFN-α</text>
<text transform="translate(487.94,558.06) rotate(90)" font-size="10.7" fill="#111" stroke="#111" stroke-width="0.2" letter-spacing="0.30">IFN-β</text>
<text transform="translate(512.02,558.06) rotate(90)" font-size="10.7" fill="#111" stroke="#111" stroke-width="0.2" letter-spacing="0.30">IL-1α</text>
<text transform="translate(536.12,558.06) rotate(90)" font-size="10.7" fill="#111" stroke="#111" stroke-width="0.2" letter-spacing="0.30">IL-6</text>
<text transform="translate(560.21,558.06) rotate(90)" font-size="10.7" fill="#111" stroke="#111" stroke-width="0.2" letter-spacing="0.30">IL-8</text>
<text transform="translate(584.30,558.06) rotate(90)" font-size="10.7" fill="#111" stroke="#111" stroke-width="0.2" letter-spacing="0.40">IP-10</text>
<text transform="translate(608.38,558.06) rotate(90)" font-size="10.7" fill="#111" stroke="#111" stroke-width="0.2" letter-spacing="0.50">MIP-3α</text>
<text transform="translate(632.48,558.06) rotate(90)" font-size="10.7" fill="#111" stroke="#111" stroke-width="0.2" letter-spacing="0.65">RANTES</text>
<text transform="translate(656.57,558.06) rotate(90)" font-size="10.7" fill="#111" stroke="#111" stroke-width="0.2" letter-spacing="0.35">TNFα</text>
<text transform="translate(131.8,794.7) rotate(-90)" font-size="16.2" font-weight="bold" stroke="#000" stroke-width="0.35"><tspan x="-1" textLength="83.6" lengthAdjust="spacingAndGlyphs">Expression</tspan><tspan> </tspan><tspan x="86.6" textLength="36.4" lengthAdjust="spacingAndGlyphs">ratio</tspan><tspan> </tspan><tspan x="127.3" textLength="25.2" lengthAdjust="spacingAndGlyphs">[%]</tspan></text>
<rect x="185.99" y="759.53" width="10.00" height="64.04" fill="#000"/>
<rect x="210.08" y="752.82" width="10.00" height="70.74" fill="#000"/>
<rect x="234.17" y="714.28" width="10.00" height="109.29" fill="#000"/>
<rect x="258.26" y="765.27" width="10.00" height="58.29" fill="#000"/>
<rect x="282.35" y="760.60" width="10.00" height="62.96" fill="#000"/>
<rect x="306.44" y="779.52" width="10.00" height="44.05" fill="#000"/>
<rect x="330.54" y="747.56" width="10.00" height="76.01" fill="#000"/>
<rect x="354.62" y="774.25" width="10.00" height="49.32" fill="#000"/>
<rect x="378.71" y="749.95" width="10.00" height="73.62" fill="#000"/>
<line x1="179.5" y1="703.50" x2="396.3" y2="703.50" stroke="#6e6e6e" stroke-width="1"/>
<line x1="190.99" y1="759.53" x2="190.99" y2="754.38" stroke="#4a4a4a" stroke-width="1"/>
<line x1="188.79" y1="754.50" x2="193.19" y2="754.50" stroke="#4a4a4a" stroke-width="1"/>
<text x="-3.12" y="6.12" transform="translate(191.09 741.45) scale(1.0 0.82) rotate(90)" font-family="'DejaVu Sans', sans-serif" font-size="12.0" font-weight="bold" stroke="#000" stroke-width="0.35">*</text>
<line x1="215.08" y1="752.82" x2="215.08" y2="748.27" stroke="#4a4a4a" stroke-width="1"/>
<line x1="212.88" y1="748.50" x2="217.28" y2="748.50" stroke="#4a4a4a" stroke-width="1"/>
<text x="-3.12" y="6.12" transform="translate(215.18 734.99) scale(1.0 0.82) rotate(90)" font-family="'DejaVu Sans', sans-serif" font-size="12.0" font-weight="bold" stroke="#000" stroke-width="0.35">*</text>
<line x1="239.17" y1="714.28" x2="239.17" y2="704.70" stroke="#4a4a4a" stroke-width="1"/>
<line x1="236.97" y1="704.50" x2="241.37" y2="704.50" stroke="#4a4a4a" stroke-width="1"/>
<line x1="263.26" y1="765.27" x2="263.26" y2="762.28" stroke="#4a4a4a" stroke-width="1"/>
<line x1="261.06" y1="762.50" x2="265.46" y2="762.50" stroke="#4a4a4a" stroke-width="1"/>
<text x="-3.12" y="6.12" transform="translate(260.12 749.35) scale(1.0 0.82) rotate(90)" font-family="'DejaVu Sans', sans-serif" font-size="12.0" font-weight="bold" stroke="#000" stroke-width="0.35">*</text>
<text x="-3.12" y="6.12" transform="translate(266.62 749.35) scale(1.0 0.82) rotate(90)" font-family="'DejaVu Sans', sans-serif" font-size="12.0" font-weight="bold" stroke="#000" stroke-width="0.35">*</text>
<line x1="287.35" y1="760.60" x2="287.35" y2="756.17" stroke="#4a4a4a" stroke-width="1"/>
<line x1="285.15" y1="756.50" x2="289.55" y2="756.50" stroke="#4a4a4a" stroke-width="1"/>
<text x="-3.12" y="6.12" transform="translate(284.20 739.89) scale(1.0 0.82) rotate(90)" font-family="'DejaVu Sans', sans-serif" font-size="12.0" font-weight="bold" stroke="#000" stroke-width="0.35">*</text>
<text x="-3.12" y="6.12" transform="translate(290.70 739.89) scale(1.0 0.82) rotate(90)" font-family="'DejaVu Sans', sans-serif" font-size="12.0" font-weight="bold" stroke="#000" stroke-width="0.35">*</text>
<line x1="311.44" y1="779.52" x2="311.44" y2="775.33" stroke="#4a4a4a" stroke-width="1"/>
<line x1="309.25" y1="775.50" x2="313.64" y2="775.50" stroke="#4a4a4a" stroke-width="1"/>
<text x="-3.12" y="6.12" transform="translate(311.55 761.92) scale(1.0 0.82) rotate(90)" font-family="'DejaVu Sans', sans-serif" font-size="12.0" font-weight="bold" stroke="#000" stroke-width="0.35">*</text>
<line x1="335.54" y1="747.56" x2="335.54" y2="742.05" stroke="#4a4a4a" stroke-width="1"/>
<line x1="333.34" y1="742.50" x2="337.74" y2="742.50" stroke="#4a4a4a" stroke-width="1"/>
<text x="-3.12" y="6.12" transform="translate(335.64 727.92) scale(1.0 0.82) rotate(90)" font-family="'DejaVu Sans', sans-serif" font-size="12.0" font-weight="bold" stroke="#000" stroke-width="0.35">*</text>
<line x1="359.62" y1="774.25" x2="359.62" y2="771.26" stroke="#4a4a4a" stroke-width="1"/>
<line x1="357.43" y1="771.50" x2="361.82" y2="771.50" stroke="#4a4a4a" stroke-width="1"/>
<text x="-3.12" y="6.12" transform="translate(356.48 758.21) scale(1.0 0.82) rotate(90)" font-family="'DejaVu Sans', sans-serif" font-size="12.0" font-weight="bold" stroke="#000" stroke-width="0.35">*</text>
<text x="-3.12" y="6.12" transform="translate(362.98 758.21) scale(1.0 0.82) rotate(90)" font-family="'DejaVu Sans', sans-serif" font-size="12.0" font-weight="bold" stroke="#000" stroke-width="0.35">*</text>
<line x1="383.71" y1="749.95" x2="383.71" y2="745.40" stroke="#4a4a4a" stroke-width="1"/>
<line x1="381.51" y1="745.50" x2="385.91" y2="745.50" stroke="#4a4a4a" stroke-width="1"/>
<text x="-3.12" y="6.12" transform="translate(383.81 731.39) scale(1.0 0.82) rotate(90)" font-family="'DejaVu Sans', sans-serif" font-size="12.0" font-weight="bold" stroke="#000" stroke-width="0.35">*</text>
<line x1="179.5" y1="614.09" x2="179.5" y2="827.57" stroke="#7f7f7f" stroke-width="1"/>
<line x1="175.0" y1="823.50" x2="396.3" y2="823.50" stroke="#7f7f7f" stroke-width="1"/>
<text x="169.4" y="827.42" font-size="11.0" text-anchor="end" fill="#111" stroke="#111" stroke-width="0.2">0</text>
<line x1="175.0" y1="793.50" x2="179.5" y2="793.50" stroke="#7f7f7f" stroke-width="1"/>
<text x="169.4" y="797.49" font-size="11.0" text-anchor="end" fill="#111" stroke="#111" stroke-width="0.2">25</text>
<line x1="175.0" y1="763.50" x2="179.5" y2="763.50" stroke="#7f7f7f" stroke-width="1"/>
<text x="169.4" y="767.56" font-size="11.0" text-anchor="end" fill="#111" stroke="#111" stroke-width="0.2">50</text>
<line x1="175.0" y1="733.50" x2="179.5" y2="733.50" stroke="#7f7f7f" stroke-width="1"/>
<text x="169.4" y="737.63" font-size="11.0" text-anchor="end" fill="#111" stroke="#111" stroke-width="0.2">75</text>
<line x1="175.0" y1="703.50" x2="179.5" y2="703.50" stroke="#7f7f7f" stroke-width="1"/>
<text x="169.4" y="707.70" font-size="11.0" text-anchor="end" fill="#111" stroke="#111" stroke-width="0.2">100</text>
<line x1="175.0" y1="673.50" x2="179.5" y2="673.50" stroke="#7f7f7f" stroke-width="1"/>
<text x="169.4" y="677.77" font-size="11.0" text-anchor="end" fill="#111" stroke="#111" stroke-width="0.2">125</text>
<line x1="175.0" y1="643.50" x2="179.5" y2="643.50" stroke="#7f7f7f" stroke-width="1"/>
<text x="169.4" y="647.84" font-size="11.0" text-anchor="end" fill="#111" stroke="#111" stroke-width="0.2">150</text>
<line x1="175.0" y1="614.50" x2="179.5" y2="614.50" stroke="#7f7f7f" stroke-width="1"/>
<text x="169.4" y="617.91" font-size="11.0" text-anchor="end" fill="#111" stroke="#111" stroke-width="0.2">175</text>
<line x1="203.50" y1="823.57" x2="203.50" y2="827.57" stroke="#7f7f7f" stroke-width="1"/>
<line x1="227.50" y1="823.57" x2="227.50" y2="827.57" stroke="#7f7f7f" stroke-width="1"/>
<line x1="251.50" y1="823.57" x2="251.50" y2="827.57" stroke="#7f7f7f" stroke-width="1"/>
<line x1="275.50" y1="823.57" x2="275.50" y2="827.57" stroke="#7f7f7f" stroke-width="1"/>
<line x1="299.50" y1="823.57" x2="299.50" y2="827.57" stroke="#7f7f7f" stroke-width="1"/>
<line x1="324.50" y1="823.57" x2="324.50" y2="827.57" stroke="#7f7f7f" stroke-width="1"/>
<line x1="348.50" y1="823.57" x2="348.50" y2="827.57" stroke="#7f7f7f" stroke-width="1"/>
<line x1="372.50" y1="823.57" x2="372.50" y2="827.57" stroke="#7f7f7f" stroke-width="1"/>
<line x1="396.50" y1="823.57" x2="396.50" y2="827.57" stroke="#7f7f7f" stroke-width="1"/>
<text transform="translate(186.04,833.37) rotate(90)" font-size="10.7" fill="#111" stroke="#111" stroke-width="0.2" letter-spacing="0.30">IFN-α</text>
<text transform="translate(210.13,833.37) rotate(90)" font-size="10.7" fill="#111" stroke="#111" stroke-width="0.2" letter-spacing="0.30">IFN-β</text>
<text transform="translate(234.22,833.37) rotate(90)" font-size="10.7" fill="#111" stroke="#111" stroke-width="0.2" letter-spacing="0.30">IL-1α</text>
<text transform="translate(258.31,833.37) rotate(90)" font-size="10.7" fill="#111" stroke="#111" stroke-width="0.2" letter-spacing="0.30">IL-6</text>
<text transform="translate(282.40,833.37) rotate(90)" font-size="10.7" fill="#111" stroke="#111" stroke-width="0.2" letter-spacing="0.30">IL-8</text>
<text transform="translate(306.50,833.37) rotate(90)" font-size="10.7" fill="#111" stroke="#111" stroke-width="0.2" letter-spacing="0.40">IP-10</text>
<text transform="translate(330.59,833.37) rotate(90)" font-size="10.7" fill="#111" stroke="#111" stroke-width="0.2" letter-spacing="0.50">MIP-3α</text>
<text transform="translate(354.68,833.37) rotate(90)" font-size="10.7" fill="#111" stroke="#111" stroke-width="0.2" letter-spacing="0.65">RANTES</text>
<text transform="translate(378.76,833.37) rotate(90)" font-size="10.7" fill="#111" stroke="#111" stroke-width="0.2" letter-spacing="0.35">TNFα</text>
<rect x="463.80" y="701.95" width="10.00" height="121.62" fill="#000"/>
<rect x="487.88" y="755.58" width="10.00" height="67.99" fill="#000"/>
<rect x="511.98" y="718.95" width="10.00" height="104.62" fill="#000"/>
<rect x="536.07" y="740.49" width="10.00" height="83.07" fill="#000"/>
<rect x="560.16" y="722.66" width="10.00" height="100.91" fill="#000"/>
<rect x="584.25" y="783.47" width="10.00" height="40.10" fill="#000"/>
<rect x="608.34" y="694.53" width="10.00" height="129.04" fill="#000"/>
<rect x="632.43" y="727.69" width="10.00" height="95.88" fill="#000"/>
<rect x="656.52" y="700.75" width="10.00" height="122.81" fill="#000"/>
<line x1="457.3" y1="703.50" x2="674.1" y2="703.50" stroke="#6e6e6e" stroke-width="1"/>
<line x1="468.80" y1="701.95" x2="468.80" y2="690.82" stroke="#4a4a4a" stroke-width="1"/>
<line x1="466.60" y1="690.50" x2="471.00" y2="690.50" stroke="#4a4a4a" stroke-width="1"/>
<line x1="492.88" y1="755.58" x2="492.88" y2="751.63" stroke="#4a4a4a" stroke-width="1"/>
<line x1="490.69" y1="751.50" x2="495.08" y2="751.50" stroke="#4a4a4a" stroke-width="1"/>
<text x="-3.12" y="6.12" transform="translate(489.74 738.46) scale(1.0 0.82) rotate(90)" font-family="'DejaVu Sans', sans-serif" font-size="12.0" font-weight="bold" stroke="#000" stroke-width="0.35">*</text>
<text x="-3.12" y="6.12" transform="translate(496.24 738.46) scale(1.0 0.82) rotate(90)" font-family="'DejaVu Sans', sans-serif" font-size="12.0" font-weight="bold" stroke="#000" stroke-width="0.35">*</text>
<line x1="516.98" y1="718.95" x2="516.98" y2="715.95" stroke="#4a4a4a" stroke-width="1"/>
<line x1="514.77" y1="715.50" x2="519.18" y2="715.50" stroke="#4a4a4a" stroke-width="1"/>
<line x1="541.07" y1="740.49" x2="541.07" y2="734.15" stroke="#4a4a4a" stroke-width="1"/>
<line x1="538.87" y1="734.50" x2="543.27" y2="734.50" stroke="#4a4a4a" stroke-width="1"/>
<text x="-3.12" y="6.12" transform="translate(537.92 720.50) scale(1.0 0.82) rotate(90)" font-family="'DejaVu Sans', sans-serif" font-size="12.0" font-weight="bold" stroke="#000" stroke-width="0.35">*</text>
<text x="-3.12" y="6.12" transform="translate(544.42 720.50) scale(1.0 0.82) rotate(90)" font-family="'DejaVu Sans', sans-serif" font-size="12.0" font-weight="bold" stroke="#000" stroke-width="0.35">*</text>
<line x1="565.16" y1="722.66" x2="565.16" y2="721.82" stroke="#4a4a4a" stroke-width="1"/>
<line x1="562.96" y1="721.50" x2="567.36" y2="721.50" stroke="#4a4a4a" stroke-width="1"/>
<text x="-3.12" y="6.12" transform="translate(562.01 708.17) scale(1.0 0.82) rotate(90)" font-family="'DejaVu Sans', sans-serif" font-size="12.0" font-weight="bold" stroke="#000" stroke-width="0.35">*</text>
<text x="-3.12" y="6.12" transform="translate(568.51 708.17) scale(1.0 0.82) rotate(90)" font-family="'DejaVu Sans', sans-serif" font-size="12.0" font-weight="bold" stroke="#000" stroke-width="0.35">*</text>
<line x1="589.25" y1="783.47" x2="589.25" y2="780.95" stroke="#4a4a4a" stroke-width="1"/>
<line x1="587.05" y1="780.50" x2="591.45" y2="780.50" stroke="#4a4a4a" stroke-width="1"/>
<text x="-3.12" y="6.12" transform="translate(589.35 766.95) scale(1.0 0.82) rotate(90)" font-family="'DejaVu Sans', sans-serif" font-size="12.0" font-weight="bold" stroke="#000" stroke-width="0.35">*</text>
<line x1="613.34" y1="694.53" x2="613.34" y2="690.82" stroke="#4a4a4a" stroke-width="1"/>
<line x1="611.13" y1="690.50" x2="615.54" y2="690.50" stroke="#4a4a4a" stroke-width="1"/>
<line x1="637.43" y1="727.69" x2="637.43" y2="720.62" stroke="#4a4a4a" stroke-width="1"/>
<line x1="635.23" y1="720.50" x2="639.63" y2="720.50" stroke="#4a4a4a" stroke-width="1"/>
<text x="-3.12" y="6.12" transform="translate(637.53 705.06) scale(1.0 0.82) rotate(90)" font-family="'DejaVu Sans', sans-serif" font-size="12.0" font-weight="bold" stroke="#000" stroke-width="0.35">*</text>
<line x1="661.52" y1="700.75" x2="661.52" y2="697.76" stroke="#4a4a4a" stroke-width="1"/>
<line x1="659.32" y1="697.50" x2="663.72" y2="697.50" stroke="#4a4a4a" stroke-width="1"/>
<line x1="457.5" y1="614.09" x2="457.5" y2="827.57" stroke="#7f7f7f" stroke-width="1"/>
<line x1="452.8" y1="823.50" x2="674.1" y2="823.50" stroke="#7f7f7f" stroke-width="1"/>
<text x="447.2" y="827.42" font-size="11.0" text-anchor="end" fill="#111" stroke="#111" stroke-width="0.2">0</text>
<line x1="452.8" y1="793.50" x2="457.3" y2="793.50" stroke="#7f7f7f" stroke-width="1"/>
<text x="447.2" y="797.49" font-size="11.0" text-anchor="end" fill="#111" stroke="#111" stroke-width="0.2">25</text>
<line x1="452.8" y1="763.50" x2="457.3" y2="763.50" stroke="#7f7f7f" stroke-width="1"/>
<text x="447.2" y="767.56" font-size="11.0" text-anchor="end" fill="#111" stroke="#111" stroke-width="0.2">50</text>
<line x1="452.8" y1="733.50" x2="457.3" y2="733.50" stroke="#7f7f7f" stroke-width="1"/>
<text x="447.2" y="737.63" font-size="11.0" text-anchor="end" fill="#111" stroke="#111" stroke-width="0.2">75</text>
<line x1="452.8" y1="703.50" x2="457.3" y2="703.50" stroke="#7f7f7f" stroke-width="1"/>
<text x="447.2" y="707.70" font-size="11.0" text-anchor="end" fill="#111" stroke="#111" stroke-width="0.2">100</text>
<line x1="452.8" y1="673.50" x2="457.3" y2="673.50" stroke="#7f7f7f" stroke-width="1"/>
<text x="447.2" y="677.77" font-size="11.0" text-anchor="end" fill="#111" stroke="#111" stroke-width="0.2">125</text>
<line x1="452.8" y1="643.50" x2="457.3" y2="643.50" stroke="#7f7f7f" stroke-width="1"/>
<text x="447.2" y="647.84" font-size="11.0" text-anchor="end" fill="#111" stroke="#111" stroke-width="0.2">150</text>
<line x1="452.8" y1="614.50" x2="457.3" y2="614.50" stroke="#7f7f7f" stroke-width="1"/>
<text x="447.2" y="617.91" font-size="11.0" text-anchor="end" fill="#111" stroke="#111" stroke-width="0.2">175</text>
<line x1="481.50" y1="823.57" x2="481.50" y2="827.57" stroke="#7f7f7f" stroke-width="1"/>
<line x1="505.50" y1="823.57" x2="505.50" y2="827.57" stroke="#7f7f7f" stroke-width="1"/>
<line x1="529.50" y1="823.57" x2="529.50" y2="827.57" stroke="#7f7f7f" stroke-width="1"/>
<line x1="553.50" y1="823.57" x2="553.50" y2="827.57" stroke="#7f7f7f" stroke-width="1"/>
<line x1="577.50" y1="823.57" x2="577.50" y2="827.57" stroke="#7f7f7f" stroke-width="1"/>
<line x1="601.50" y1="823.57" x2="601.50" y2="827.57" stroke="#7f7f7f" stroke-width="1"/>
<line x1="625.50" y1="823.57" x2="625.50" y2="827.57" stroke="#7f7f7f" stroke-width="1"/>
<line x1="650.50" y1="823.57" x2="650.50" y2="827.57" stroke="#7f7f7f" stroke-width="1"/>
<line x1="674.50" y1="823.57" x2="674.50" y2="827.57" stroke="#7f7f7f" stroke-width="1"/>
<text transform="translate(463.85,833.37) rotate(90)" font-size="10.7" fill="#111" stroke="#111" stroke-width="0.2" letter-spacing="0.30">IFN-α</text>
<text transform="translate(487.94,833.37) rotate(90)" font-size="10.7" fill="#111" stroke="#111" stroke-width="0.2" letter-spacing="0.30">IFN-β</text>
<text transform="translate(512.02,833.37) rotate(90)" font-size="10.7" fill="#111" stroke="#111" stroke-width="0.2" letter-spacing="0.30">IL-1α</text>
<text transform="translate(536.12,833.37) rotate(90)" font-size="10.7" fill="#111" stroke="#111" stroke-width="0.2" letter-spacing="0.30">IL-6</text>
<text transform="translate(560.21,833.37) rotate(90)" font-size="10.7" fill="#111" stroke="#111" stroke-width="0.2" letter-spacing="0.30">IL-8</text>
<text transform="translate(584.30,833.37) rotate(90)" font-size="10.7" fill="#111" stroke="#111" stroke-width="0.2" letter-spacing="0.40">IP-10</text>
<text transform="translate(608.38,833.37) rotate(90)" font-size="10.7" fill="#111" stroke="#111" stroke-width="0.2" letter-spacing="0.50">MIP-3α</text>
<text transform="translate(632.48,833.37) rotate(90)" font-size="10.7" fill="#111" stroke="#111" stroke-width="0.2" letter-spacing="0.65">RANTES</text>
<text transform="translate(656.57,833.37) rotate(90)" font-size="10.7" fill="#111" stroke="#111" stroke-width="0.2" letter-spacing="0.35">TNFα</text>
<text transform="translate(131.8,1069.0) rotate(-90)" font-size="16.2" font-weight="bold" stroke="#000" stroke-width="0.35"><tspan x="-1" textLength="83.6" lengthAdjust="spacingAndGlyphs">Expression</tspan><tspan> </tspan><tspan x="86.6" textLength="36.4" lengthAdjust="spacingAndGlyphs">ratio</tspan><tspan> </tspan><tspan x="127.3" textLength="25.2" lengthAdjust="spacingAndGlyphs">[%]</tspan></text>
<rect x="185.99" y="1053.70" width="10.00" height="44.17" fill="#000"/>
<rect x="210.08" y="1048.31" width="10.00" height="49.56" fill="#000"/>
<rect x="234.17" y="930.88" width="10.00" height="166.98" fill="#000"/>
<rect x="258.26" y="1036.22" width="10.00" height="61.65" fill="#000"/>
<rect x="282.35" y="1004.14" width="10.00" height="93.73" fill="#000"/>
<rect x="306.44" y="969.79" width="10.00" height="128.08" fill="#000"/>
<rect x="330.54" y="1063.39" width="10.00" height="34.47" fill="#000"/>
<rect x="354.62" y="1014.08" width="10.00" height="83.79" fill="#000"/>
<rect x="378.71" y="1064.83" width="10.00" height="33.04" fill="#000"/>
<line x1="179.5" y1="978.50" x2="396.3" y2="978.50" stroke="#6e6e6e" stroke-width="1"/>
<line x1="190.99" y1="1053.70" x2="190.99" y2="1051.42" stroke="#4a4a4a" stroke-width="1"/>
<line x1="188.79" y1="1051.50" x2="193.19" y2="1051.50" stroke="#4a4a4a" stroke-width="1"/>
<text x="-3.12" y="6.12" transform="translate(191.09 1037.30) scale(1.0 0.82) rotate(90)" font-family="'DejaVu Sans', sans-serif" font-size="12.0" font-weight="bold" stroke="#000" stroke-width="0.35">*</text>
<line x1="215.08" y1="1048.31" x2="215.08" y2="1043.16" stroke="#4a4a4a" stroke-width="1"/>
<line x1="212.88" y1="1043.50" x2="217.28" y2="1043.50" stroke="#4a4a4a" stroke-width="1"/>
<text x="-3.12" y="6.12" transform="translate(215.18 1030.35) scale(1.0 0.82) rotate(90)" font-family="'DejaVu Sans', sans-serif" font-size="12.0" font-weight="bold" stroke="#000" stroke-width="0.35">*</text>
<line x1="239.17" y1="930.88" x2="239.17" y2="914.60" stroke="#4a4a4a" stroke-width="1"/>
<line x1="236.97" y1="914.50" x2="241.37" y2="914.50" stroke="#4a4a4a" stroke-width="1"/>
<line x1="263.26" y1="1036.22" x2="263.26" y2="1030.23" stroke="#4a4a4a" stroke-width="1"/>
<line x1="261.06" y1="1030.50" x2="265.46" y2="1030.50" stroke="#4a4a4a" stroke-width="1"/>
<text x="-3.12" y="6.12" transform="translate(263.37 1016.23) scale(1.0 0.82) rotate(90)" font-family="'DejaVu Sans', sans-serif" font-size="12.0" font-weight="bold" stroke="#000" stroke-width="0.35">*</text>
<line x1="287.35" y1="1004.14" x2="287.35" y2="981.16" stroke="#4a4a4a" stroke-width="1"/>
<line x1="285.15" y1="981.50" x2="289.55" y2="981.50" stroke="#4a4a4a" stroke-width="1"/>
<line x1="311.44" y1="969.79" x2="311.44" y2="965.12" stroke="#4a4a4a" stroke-width="1"/>
<line x1="309.25" y1="965.50" x2="313.64" y2="965.50" stroke="#4a4a4a" stroke-width="1"/>
<line x1="335.54" y1="1063.39" x2="335.54" y2="1061.36" stroke="#4a4a4a" stroke-width="1"/>
<line x1="333.34" y1="1061.50" x2="337.74" y2="1061.50" stroke="#4a4a4a" stroke-width="1"/>
<text x="-3.12" y="6.12" transform="translate(332.39 1048.19) scale(1.0 0.82) rotate(90)" font-family="'DejaVu Sans', sans-serif" font-size="12.0" font-weight="bold" stroke="#000" stroke-width="0.35">*</text>
<text x="-3.12" y="6.12" transform="translate(338.89 1048.19) scale(1.0 0.82) rotate(90)" font-family="'DejaVu Sans', sans-serif" font-size="12.0" font-weight="bold" stroke="#000" stroke-width="0.35">*</text>
<line x1="359.62" y1="1014.08" x2="359.62" y2="1008.21" stroke="#4a4a4a" stroke-width="1"/>
<line x1="357.43" y1="1008.50" x2="361.82" y2="1008.50" stroke="#4a4a4a" stroke-width="1"/>
<text x="-3.12" y="6.12" transform="translate(356.48 995.52) scale(1.0 0.82) rotate(90)" font-family="'DejaVu Sans', sans-serif" font-size="12.0" font-weight="bold" stroke="#000" stroke-width="0.35">*</text>
<text x="-3.12" y="6.12" transform="translate(362.98 995.52) scale(1.0 0.82) rotate(90)" font-family="'DejaVu Sans', sans-serif" font-size="12.0" font-weight="bold" stroke="#000" stroke-width="0.35">*</text>
<line x1="383.71" y1="1064.83" x2="383.71" y2="1060.40" stroke="#4a4a4a" stroke-width="1"/>
<line x1="381.51" y1="1060.50" x2="385.91" y2="1060.50" stroke="#4a4a4a" stroke-width="1"/>
<text x="-3.12" y="6.12" transform="translate(383.81 1046.99) scale(1.0 0.82) rotate(90)" font-family="'DejaVu Sans', sans-serif" font-size="12.0" font-weight="bold" stroke="#000" stroke-width="0.35">*</text>
<line x1="179.5" y1="888.39" x2="179.5" y2="1101.87" stroke="#7f7f7f" stroke-width="1"/>
<line x1="175.0" y1="1097.50" x2="396.3" y2="1097.50" stroke="#7f7f7f" stroke-width="1"/>
<text x="169.4" y="1101.72" font-size="11.0" text-anchor="end" fill="#111" stroke="#111" stroke-width="0.2">0</text>
<line x1="175.0" y1="1067.50" x2="179.5" y2="1067.50" stroke="#7f7f7f" stroke-width="1"/>
<text x="169.4" y="1071.79" font-size="11.0" text-anchor="end" fill="#111" stroke="#111" stroke-width="0.2">25</text>
<line x1="175.0" y1="1038.50" x2="179.5" y2="1038.50" stroke="#7f7f7f" stroke-width="1"/>
<text x="169.4" y="1041.86" font-size="11.0" text-anchor="end" fill="#111" stroke="#111" stroke-width="0.2">50</text>
<line x1="175.0" y1="1008.50" x2="179.5" y2="1008.50" stroke="#7f7f7f" stroke-width="1"/>
<text x="169.4" y="1011.93" font-size="11.0" text-anchor="end" fill="#111" stroke="#111" stroke-width="0.2">75</text>
<line x1="175.0" y1="978.50" x2="179.5" y2="978.50" stroke="#7f7f7f" stroke-width="1"/>
<text x="169.4" y="982.00" font-size="11.0" text-anchor="end" fill="#111" stroke="#111" stroke-width="0.2">100</text>
<line x1="175.0" y1="948.50" x2="179.5" y2="948.50" stroke="#7f7f7f" stroke-width="1"/>
<text x="169.4" y="952.07" font-size="11.0" text-anchor="end" fill="#111" stroke="#111" stroke-width="0.2">125</text>
<line x1="175.0" y1="918.50" x2="179.5" y2="918.50" stroke="#7f7f7f" stroke-width="1"/>
<text x="169.4" y="922.14" font-size="11.0" text-anchor="end" fill="#111" stroke="#111" stroke-width="0.2">150</text>
<line x1="175.0" y1="888.50" x2="179.5" y2="888.50" stroke="#7f7f7f" stroke-width="1"/>
<text x="169.4" y="892.21" font-size="11.0" text-anchor="end" fill="#111" stroke="#111" stroke-width="0.2">175</text>
<line x1="203.50" y1="1097.87" x2="203.50" y2="1101.87" stroke="#7f7f7f" stroke-width="1"/>
<line x1="227.50" y1="1097.87" x2="227.50" y2="1101.87" stroke="#7f7f7f" stroke-width="1"/>
<line x1="251.50" y1="1097.87" x2="251.50" y2="1101.87" stroke="#7f7f7f" stroke-width="1"/>
<line x1="275.50" y1="1097.87" x2="275.50" y2="1101.87" stroke="#7f7f7f" stroke-width="1"/>
<line x1="299.50" y1="1097.87" x2="299.50" y2="1101.87" stroke="#7f7f7f" stroke-width="1"/>
<line x1="324.50" y1="1097.87" x2="324.50" y2="1101.87" stroke="#7f7f7f" stroke-width="1"/>
<line x1="348.50" y1="1097.87" x2="348.50" y2="1101.87" stroke="#7f7f7f" stroke-width="1"/>
<line x1="372.50" y1="1097.87" x2="372.50" y2="1101.87" stroke="#7f7f7f" stroke-width="1"/>
<line x1="396.50" y1="1097.87" x2="396.50" y2="1101.87" stroke="#7f7f7f" stroke-width="1"/>
<text transform="translate(186.04,1107.67) rotate(90)" font-size="10.7" fill="#111" stroke="#111" stroke-width="0.2" letter-spacing="0.30">IFN-α</text>
<text transform="translate(210.13,1107.67) rotate(90)" font-size="10.7" fill="#111" stroke="#111" stroke-width="0.2" letter-spacing="0.30">IFN-β</text>
<text transform="translate(234.22,1107.67) rotate(90)" font-size="10.7" fill="#111" stroke="#111" stroke-width="0.2" letter-spacing="0.30">IL-1α</text>
<text transform="translate(258.31,1107.67) rotate(90)" font-size="10.7" fill="#111" stroke="#111" stroke-width="0.2" letter-spacing="0.30">IL-6</text>
<text transform="translate(282.40,1107.67) rotate(90)" font-size="10.7" fill="#111" stroke="#111" stroke-width="0.2" letter-spacing="0.30">IL-8</text>
<text transform="translate(306.50,1107.67) rotate(90)" font-size="10.7" fill="#111" stroke="#111" stroke-width="0.2" letter-spacing="0.40">IP-10</text>
<text transform="translate(330.59,1107.67) rotate(90)" font-size="10.7" fill="#111" stroke="#111" stroke-width="0.2" letter-spacing="0.50">MIP-3α</text>
<text transform="translate(354.68,1107.67) rotate(90)" font-size="10.7" fill="#111" stroke="#111" stroke-width="0.2" letter-spacing="0.65">RANTES</text>
<text transform="translate(378.76,1107.67) rotate(90)" font-size="10.7" fill="#111" stroke="#111" stroke-width="0.2" letter-spacing="0.35">TNFα</text>
<rect x="463.80" y="972.06" width="10.00" height="125.80" fill="#000"/>
<rect x="487.88" y="1045.44" width="10.00" height="52.43" fill="#000"/>
<rect x="511.98" y="993.97" width="10.00" height="103.90" fill="#000"/>
<rect x="536.07" y="997.56" width="10.00" height="100.31" fill="#000"/>
<rect x="560.16" y="983.79" width="10.00" height="114.07" fill="#000"/>
<rect x="584.25" y="941.42" width="10.00" height="156.45" fill="#000"/>
<rect x="608.34" y="919.63" width="10.00" height="178.23" fill="#000"/>
<rect x="632.43" y="1018.26" width="10.00" height="79.60" fill="#000"/>
<rect x="656.52" y="931.24" width="10.00" height="166.62" fill="#000"/>
<line x1="457.3" y1="978.50" x2="674.1" y2="978.50" stroke="#6e6e6e" stroke-width="1"/>
<line x1="468.80" y1="972.06" x2="468.80" y2="957.10" stroke="#4a4a4a" stroke-width="1"/>
<line x1="466.60" y1="957.50" x2="471.00" y2="957.50" stroke="#4a4a4a" stroke-width="1"/>
<line x1="492.88" y1="1045.44" x2="492.88" y2="1039.33" stroke="#4a4a4a" stroke-width="1"/>
<line x1="490.69" y1="1039.50" x2="495.08" y2="1039.50" stroke="#4a4a4a" stroke-width="1"/>
<text x="-3.12" y="6.12" transform="translate(492.99 1024.97) scale(1.0 0.82) rotate(90)" font-family="'DejaVu Sans', sans-serif" font-size="12.0" font-weight="bold" stroke="#000" stroke-width="0.35">*</text>
<line x1="516.98" y1="993.97" x2="516.98" y2="980.08" stroke="#4a4a4a" stroke-width="1"/>
<line x1="514.77" y1="980.50" x2="519.18" y2="980.50" stroke="#4a4a4a" stroke-width="1"/>
<line x1="541.07" y1="997.56" x2="541.07" y2="992.05" stroke="#4a4a4a" stroke-width="1"/>
<line x1="538.87" y1="992.50" x2="543.27" y2="992.50" stroke="#4a4a4a" stroke-width="1"/>
<text x="-3.12" y="6.12" transform="translate(541.17 980.68) scale(1.0 0.82) rotate(90)" font-family="'DejaVu Sans', sans-serif" font-size="12.0" font-weight="bold" stroke="#000" stroke-width="0.35">*</text>
<line x1="565.16" y1="983.79" x2="565.16" y2="973.38" stroke="#4a4a4a" stroke-width="1"/>
<line x1="562.96" y1="973.50" x2="567.36" y2="973.50" stroke="#4a4a4a" stroke-width="1"/>
<line x1="589.25" y1="941.42" x2="589.25" y2="926.81" stroke="#4a4a4a" stroke-width="1"/>
<line x1="587.05" y1="926.50" x2="591.45" y2="926.50" stroke="#4a4a4a" stroke-width="1"/>
<line x1="613.34" y1="919.63" x2="613.34" y2="895.69" stroke="#4a4a4a" stroke-width="1"/>
<line x1="611.13" y1="895.50" x2="615.54" y2="895.50" stroke="#4a4a4a" stroke-width="1"/>
<line x1="637.43" y1="1018.26" x2="637.43" y2="1005.22" stroke="#4a4a4a" stroke-width="1"/>
<line x1="635.23" y1="1005.50" x2="639.63" y2="1005.50" stroke="#4a4a4a" stroke-width="1"/>
<text x="-3.12" y="6.12" transform="translate(637.53 990.97) scale(1.0 0.82) rotate(90)" font-family="'DejaVu Sans', sans-serif" font-size="12.0" font-weight="bold" stroke="#000" stroke-width="0.35">*</text>
<line x1="661.52" y1="931.24" x2="661.52" y2="915.08" stroke="#4a4a4a" stroke-width="1"/>
<line x1="659.32" y1="915.50" x2="663.72" y2="915.50" stroke="#4a4a4a" stroke-width="1"/>
<line x1="457.5" y1="888.39" x2="457.5" y2="1101.87" stroke="#7f7f7f" stroke-width="1"/>
<line x1="452.8" y1="1097.50" x2="674.1" y2="1097.50" stroke="#7f7f7f" stroke-width="1"/>
<text x="447.2" y="1101.72" font-size="11.0" text-anchor="end" fill="#111" stroke="#111" stroke-width="0.2">0</text>
<line x1="452.8" y1="1067.50" x2="457.3" y2="1067.50" stroke="#7f7f7f" stroke-width="1"/>
<text x="447.2" y="1071.79" font-size="11.0" text-anchor="end" fill="#111" stroke="#111" stroke-width="0.2">25</text>
<line x1="452.8" y1="1038.50" x2="457.3" y2="1038.50" stroke="#7f7f7f" stroke-width="1"/>
<text x="447.2" y="1041.86" font-size="11.0" text-anchor="end" fill="#111" stroke="#111" stroke-width="0.2">50</text>
<line x1="452.8" y1="1008.50" x2="457.3" y2="1008.50" stroke="#7f7f7f" stroke-width="1"/>
<text x="447.2" y="1011.93" font-size="11.0" text-anchor="end" fill="#111" stroke="#111" stroke-width="0.2">75</text>
<line x1="452.8" y1="978.50" x2="457.3" y2="978.50" stroke="#7f7f7f" stroke-width="1"/>
<text x="447.2" y="982.00" font-size="11.0" text-anchor="end" fill="#111" stroke="#111" stroke-width="0.2">100</text>
<line x1="452.8" y1="948.50" x2="457.3" y2="948.50" stroke="#7f7f7f" stroke-width="1"/>
<text x="447.2" y="952.07" font-size="11.0" text-anchor="end" fill="#111" stroke="#111" stroke-width="0.2">125</text>
<line x1="452.8" y1="918.50" x2="457.3" y2="918.50" stroke="#7f7f7f" stroke-width="1"/>
<text x="447.2" y="922.14" font-size="11.0" text-anchor="end" fill="#111" stroke="#111" stroke-width="0.2">150</text>
<line x1="452.8" y1="888.50" x2="457.3" y2="888.50" stroke="#7f7f7f" stroke-width="1"/>
<text x="447.2" y="892.21" font-size="11.0" text-anchor="end" fill="#111" stroke="#111" stroke-width="0.2">175</text>
<line x1="481.50" y1="1097.87" x2="481.50" y2="1101.87" stroke="#7f7f7f" stroke-width="1"/>
<line x1="505.50" y1="1097.87" x2="505.50" y2="1101.87" stroke="#7f7f7f" stroke-width="1"/>
<line x1="529.50" y1="1097.87" x2="529.50" y2="1101.87" stroke="#7f7f7f" stroke-width="1"/>
<line x1="553.50" y1="1097.87" x2="553.50" y2="1101.87" stroke="#7f7f7f" stroke-width="1"/>
<line x1="577.50" y1="1097.87" x2="577.50" y2="1101.87" stroke="#7f7f7f" stroke-width="1"/>
<line x1="601.50" y1="1097.87" x2="601.50" y2="1101.87" stroke="#7f7f7f" stroke-width="1"/>
<line x1="625.50" y1="1097.87" x2="625.50" y2="1101.87" stroke="#7f7f7f" stroke-width="1"/>
<line x1="650.50" y1="1097.87" x2="650.50" y2="1101.87" stroke="#7f7f7f" stroke-width="1"/>
<line x1="674.50" y1="1097.87" x2="674.50" y2="1101.87" stroke="#7f7f7f" stroke-width="1"/>
<text transform="translate(463.85,1107.67) rotate(90)" font-size="10.7" fill="#111" stroke="#111" stroke-width="0.2" letter-spacing="0.30">IFN-α</text>
<text transform="translate(487.94,1107.67) rotate(90)" font-size="10.7" fill="#111" stroke="#111" stroke-width="0.2" letter-spacing="0.30">IFN-β</text>
<text transform="translate(512.02,1107.67) rotate(90)" font-size="10.7" fill="#111" stroke="#111" stroke-width="0.2" letter-spacing="0.30">IL-1α</text>
<text transform="translate(536.12,1107.67) rotate(90)" font-size="10.7" fill="#111" stroke="#111" stroke-width="0.2" letter-spacing="0.30">IL-6</text>
<text transform="translate(560.21,1107.67) rotate(90)" font-size="10.7" fill="#111" stroke="#111" stroke-width="0.2" letter-spacing="0.30">IL-8</text>
<text transform="translate(584.30,1107.67) rotate(90)" font-size="10.7" fill="#111" stroke="#111" stroke-width="0.2" letter-spacing="0.40">IP-10</text>
<text transform="translate(608.38,1107.67) rotate(90)" font-size="10.7" fill="#111" stroke="#111" stroke-width="0.2" letter-spacing="0.50">MIP-3α</text>
<text transform="translate(632.48,1107.67) rotate(90)" font-size="10.7" fill="#111" stroke="#111" stroke-width="0.2" letter-spacing="0.65">RANTES</text>
<text transform="translate(656.57,1107.67) rotate(90)" font-size="10.7" fill="#111" stroke="#111" stroke-width="0.2" letter-spacing="0.35">TNFα</text>
<text transform="translate(131.8,1343.7) rotate(-90)" font-size="16.2" font-weight="bold" stroke="#000" stroke-width="0.35"><tspan x="-1" textLength="83.6" lengthAdjust="spacingAndGlyphs">Expression</tspan><tspan> </tspan><tspan x="86.6" textLength="36.4" lengthAdjust="spacingAndGlyphs">ratio</tspan><tspan> </tspan><tspan x="127.3" textLength="25.2" lengthAdjust="spacingAndGlyphs">[%]</tspan></text>
<rect x="185.99" y="1218.03" width="10.00" height="154.53" fill="#000"/>
<rect x="210.08" y="1239.70" width="10.00" height="132.87" fill="#000"/>
<rect x="234.17" y="1238.86" width="10.00" height="133.70" fill="#000"/>
<rect x="258.26" y="1235.87" width="10.00" height="136.70" fill="#000"/>
<rect x="282.35" y="1257.77" width="10.00" height="114.79" fill="#000"/>
<rect x="306.44" y="1238.26" width="10.00" height="134.30" fill="#000"/>
<rect x="330.54" y="1250.23" width="10.00" height="122.33" fill="#000"/>
<rect x="354.62" y="1245.44" width="10.00" height="127.12" fill="#000"/>
<rect x="378.71" y="1263.64" width="10.00" height="108.93" fill="#000"/>
<line x1="179.5" y1="1252.50" x2="396.3" y2="1252.50" stroke="#6e6e6e" stroke-width="1"/>
<line x1="190.99" y1="1218.03" x2="190.99" y2="1196.85" stroke="#4a4a4a" stroke-width="1"/>
<line x1="188.79" y1="1196.50" x2="193.19" y2="1196.50" stroke="#4a4a4a" stroke-width="1"/>
<text x="-3.12" y="6.12" transform="translate(191.09 1184.04) scale(1.0 0.82) rotate(90)" font-family="'DejaVu Sans', sans-serif" font-size="12.0" font-weight="bold" stroke="#000" stroke-width="0.35">*</text>
<line x1="215.08" y1="1239.70" x2="215.08" y2="1228.92" stroke="#4a4a4a" stroke-width="1"/>
<line x1="212.88" y1="1228.50" x2="217.28" y2="1228.50" stroke="#4a4a4a" stroke-width="1"/>
<line x1="239.17" y1="1238.86" x2="239.17" y2="1230.84" stroke="#4a4a4a" stroke-width="1"/>
<line x1="236.97" y1="1230.50" x2="241.37" y2="1230.50" stroke="#4a4a4a" stroke-width="1"/>
<line x1="263.26" y1="1235.87" x2="263.26" y2="1226.17" stroke="#4a4a4a" stroke-width="1"/>
<line x1="261.06" y1="1226.50" x2="265.46" y2="1226.50" stroke="#4a4a4a" stroke-width="1"/>
<line x1="287.35" y1="1257.77" x2="287.35" y2="1245.08" stroke="#4a4a4a" stroke-width="1"/>
<line x1="285.15" y1="1245.50" x2="289.55" y2="1245.50" stroke="#4a4a4a" stroke-width="1"/>
<line x1="311.44" y1="1238.26" x2="311.44" y2="1225.93" stroke="#4a4a4a" stroke-width="1"/>
<line x1="309.25" y1="1225.50" x2="313.64" y2="1225.50" stroke="#4a4a4a" stroke-width="1"/>
<line x1="335.54" y1="1250.23" x2="335.54" y2="1241.97" stroke="#4a4a4a" stroke-width="1"/>
<line x1="333.34" y1="1241.50" x2="337.74" y2="1241.50" stroke="#4a4a4a" stroke-width="1"/>
<line x1="359.62" y1="1245.44" x2="359.62" y2="1236.11" stroke="#4a4a4a" stroke-width="1"/>
<line x1="357.43" y1="1236.50" x2="361.82" y2="1236.50" stroke="#4a4a4a" stroke-width="1"/>
<line x1="383.71" y1="1263.64" x2="383.71" y2="1252.15" stroke="#4a4a4a" stroke-width="1"/>
<line x1="381.51" y1="1252.50" x2="385.91" y2="1252.50" stroke="#4a4a4a" stroke-width="1"/>
<line x1="179.5" y1="1163.09" x2="179.5" y2="1376.57" stroke="#7f7f7f" stroke-width="1"/>
<line x1="175.0" y1="1372.50" x2="396.3" y2="1372.50" stroke="#7f7f7f" stroke-width="1"/>
<text x="169.4" y="1376.41" font-size="11.0" text-anchor="end" fill="#111" stroke="#111" stroke-width="0.2">0</text>
<line x1="175.0" y1="1342.50" x2="179.5" y2="1342.50" stroke="#7f7f7f" stroke-width="1"/>
<text x="169.4" y="1346.48" font-size="11.0" text-anchor="end" fill="#111" stroke="#111" stroke-width="0.2">25</text>
<line x1="175.0" y1="1312.50" x2="179.5" y2="1312.50" stroke="#7f7f7f" stroke-width="1"/>
<text x="169.4" y="1316.56" font-size="11.0" text-anchor="end" fill="#111" stroke="#111" stroke-width="0.2">50</text>
<line x1="175.0" y1="1282.50" x2="179.5" y2="1282.50" stroke="#7f7f7f" stroke-width="1"/>
<text x="169.4" y="1286.62" font-size="11.0" text-anchor="end" fill="#111" stroke="#111" stroke-width="0.2">75</text>
<line x1="175.0" y1="1252.50" x2="179.5" y2="1252.50" stroke="#7f7f7f" stroke-width="1"/>
<text x="169.4" y="1256.69" font-size="11.0" text-anchor="end" fill="#111" stroke="#111" stroke-width="0.2">100</text>
<line x1="175.0" y1="1222.50" x2="179.5" y2="1222.50" stroke="#7f7f7f" stroke-width="1"/>
<text x="169.4" y="1226.76" font-size="11.0" text-anchor="end" fill="#111" stroke="#111" stroke-width="0.2">125</text>
<line x1="175.0" y1="1192.50" x2="179.5" y2="1192.50" stroke="#7f7f7f" stroke-width="1"/>
<text x="169.4" y="1196.84" font-size="11.0" text-anchor="end" fill="#111" stroke="#111" stroke-width="0.2">150</text>
<line x1="175.0" y1="1163.50" x2="179.5" y2="1163.50" stroke="#7f7f7f" stroke-width="1"/>
<text x="169.4" y="1166.90" font-size="11.0" text-anchor="end" fill="#111" stroke="#111" stroke-width="0.2">175</text>
<line x1="203.50" y1="1372.57" x2="203.50" y2="1376.57" stroke="#7f7f7f" stroke-width="1"/>
<line x1="227.50" y1="1372.57" x2="227.50" y2="1376.57" stroke="#7f7f7f" stroke-width="1"/>
<line x1="251.50" y1="1372.57" x2="251.50" y2="1376.57" stroke="#7f7f7f" stroke-width="1"/>
<line x1="275.50" y1="1372.57" x2="275.50" y2="1376.57" stroke="#7f7f7f" stroke-width="1"/>
<line x1="299.50" y1="1372.57" x2="299.50" y2="1376.57" stroke="#7f7f7f" stroke-width="1"/>
<line x1="324.50" y1="1372.57" x2="324.50" y2="1376.57" stroke="#7f7f7f" stroke-width="1"/>
<line x1="348.50" y1="1372.57" x2="348.50" y2="1376.57" stroke="#7f7f7f" stroke-width="1"/>
<line x1="372.50" y1="1372.57" x2="372.50" y2="1376.57" stroke="#7f7f7f" stroke-width="1"/>
<line x1="396.50" y1="1372.57" x2="396.50" y2="1376.57" stroke="#7f7f7f" stroke-width="1"/>
<text transform="translate(186.04,1382.37) rotate(90)" font-size="10.7" fill="#111" stroke="#111" stroke-width="0.2" letter-spacing="0.30">IFN-α</text>
<text transform="translate(210.13,1382.37) rotate(90)" font-size="10.7" fill="#111" stroke="#111" stroke-width="0.2" letter-spacing="0.30">IFN-β</text>
<text transform="translate(234.22,1382.37) rotate(90)" font-size="10.7" fill="#111" stroke="#111" stroke-width="0.2" letter-spacing="0.30">IL-1α</text>
<text transform="translate(258.31,1382.37) rotate(90)" font-size="10.7" fill="#111" stroke="#111" stroke-width="0.2" letter-spacing="0.30">IL-6</text>
<text transform="translate(282.40,1382.37) rotate(90)" font-size="10.7" fill="#111" stroke="#111" stroke-width="0.2" letter-spacing="0.30">IL-8</text>
<text transform="translate(306.50,1382.37) rotate(90)" font-size="10.7" fill="#111" stroke="#111" stroke-width="0.2" letter-spacing="0.40">IP-10</text>
<text transform="translate(330.59,1382.37) rotate(90)" font-size="10.7" fill="#111" stroke="#111" stroke-width="0.2" letter-spacing="0.50">MIP-3α</text>
<text transform="translate(354.68,1382.37) rotate(90)" font-size="10.7" fill="#111" stroke="#111" stroke-width="0.2" letter-spacing="0.65">RANTES</text>
<text transform="translate(378.76,1382.37) rotate(90)" font-size="10.7" fill="#111" stroke="#111" stroke-width="0.2" letter-spacing="0.35">TNFα</text>
<rect x="463.80" y="1259.33" width="10.00" height="113.24" fill="#000"/>
<rect x="487.88" y="1209.41" width="10.00" height="163.15" fill="#000"/>
<rect x="511.98" y="1265.19" width="10.00" height="107.37" fill="#000"/>
<rect x="536.07" y="1263.76" width="10.00" height="108.81" fill="#000"/>
<rect x="560.16" y="1267.23" width="10.00" height="105.34" fill="#000"/>
<rect x="584.25" y="1168.48" width="10.00" height="204.09" fill="#000"/>
<rect x="608.34" y="1248.44" width="10.00" height="124.13" fill="#000"/>
<rect x="632.43" y="1242.45" width="10.00" height="130.11" fill="#000"/>
<rect x="656.52" y="1231.44" width="10.00" height="141.13" fill="#000"/>
<line x1="457.3" y1="1252.50" x2="674.1" y2="1252.50" stroke="#6e6e6e" stroke-width="1"/>
<line x1="468.80" y1="1259.33" x2="468.80" y2="1251.07" stroke="#4a4a4a" stroke-width="1"/>
<line x1="466.60" y1="1251.50" x2="471.00" y2="1251.50" stroke="#4a4a4a" stroke-width="1"/>
<line x1="492.88" y1="1209.41" x2="492.88" y2="1204.03" stroke="#4a4a4a" stroke-width="1"/>
<line x1="490.69" y1="1204.50" x2="495.08" y2="1204.50" stroke="#4a4a4a" stroke-width="1"/>
<text x="-3.12" y="6.12" transform="translate(489.74 1191.10) scale(1.0 0.82) rotate(90)" font-family="'DejaVu Sans', sans-serif" font-size="12.0" font-weight="bold" stroke="#000" stroke-width="0.35">*</text>
<text x="-3.12" y="6.12" transform="translate(496.24 1191.10) scale(1.0 0.82) rotate(90)" font-family="'DejaVu Sans', sans-serif" font-size="12.0" font-weight="bold" stroke="#000" stroke-width="0.35">*</text>
<line x1="516.98" y1="1265.19" x2="516.98" y2="1263.28" stroke="#4a4a4a" stroke-width="1"/>
<line x1="514.77" y1="1263.50" x2="519.18" y2="1263.50" stroke="#4a4a4a" stroke-width="1"/>
<line x1="541.07" y1="1263.76" x2="541.07" y2="1259.21" stroke="#4a4a4a" stroke-width="1"/>
<line x1="538.87" y1="1259.50" x2="543.27" y2="1259.50" stroke="#4a4a4a" stroke-width="1"/>
<line x1="565.16" y1="1267.23" x2="565.16" y2="1264.84" stroke="#4a4a4a" stroke-width="1"/>
<line x1="562.96" y1="1264.50" x2="567.36" y2="1264.50" stroke="#4a4a4a" stroke-width="1"/>
<line x1="589.25" y1="1168.48" x2="589.25" y2="1162.25" stroke="#4a4a4a" stroke-width="1"/>
<text x="-3.12" y="6.12" transform="translate(589.35 1155.55) scale(1.0 0.82) rotate(90)" font-family="'DejaVu Sans', sans-serif" font-size="12.0" font-weight="bold" stroke="#000" stroke-width="0.35">*</text>
<line x1="613.34" y1="1248.44" x2="613.34" y2="1241.25" stroke="#4a4a4a" stroke-width="1"/>
<line x1="611.13" y1="1241.50" x2="615.54" y2="1241.50" stroke="#4a4a4a" stroke-width="1"/>
<line x1="637.43" y1="1242.45" x2="637.43" y2="1241.73" stroke="#4a4a4a" stroke-width="1"/>
<line x1="635.23" y1="1241.50" x2="639.63" y2="1241.50" stroke="#4a4a4a" stroke-width="1"/>
<line x1="661.52" y1="1231.44" x2="661.52" y2="1227.01" stroke="#4a4a4a" stroke-width="1"/>
<line x1="659.32" y1="1227.50" x2="663.72" y2="1227.50" stroke="#4a4a4a" stroke-width="1"/>
<line x1="457.5" y1="1163.09" x2="457.5" y2="1376.57" stroke="#7f7f7f" stroke-width="1"/>
<line x1="452.8" y1="1372.50" x2="674.1" y2="1372.50" stroke="#7f7f7f" stroke-width="1"/>
<text x="447.2" y="1376.41" font-size="11.0" text-anchor="end" fill="#111" stroke="#111" stroke-width="0.2">0</text>
<line x1="452.8" y1="1342.50" x2="457.3" y2="1342.50" stroke="#7f7f7f" stroke-width="1"/>
<text x="447.2" y="1346.48" font-size="11.0" text-anchor="end" fill="#111" stroke="#111" stroke-width="0.2">25</text>
<line x1="452.8" y1="1312.50" x2="457.3" y2="1312.50" stroke="#7f7f7f" stroke-width="1"/>
<text x="447.2" y="1316.56" font-size="11.0" text-anchor="end" fill="#111" stroke="#111" stroke-width="0.2">50</text>
<line x1="452.8" y1="1282.50" x2="457.3" y2="1282.50" stroke="#7f7f7f" stroke-width="1"/>
<text x="447.2" y="1286.62" font-size="11.0" text-anchor="end" fill="#111" stroke="#111" stroke-width="0.2">75</text>
<line x1="452.8" y1="1252.50" x2="457.3" y2="1252.50" stroke="#7f7f7f" stroke-width="1"/>
<text x="447.2" y="1256.69" font-size="11.0" text-anchor="end" fill="#111" stroke="#111" stroke-width="0.2">100</text>
<line x1="452.8" y1="1222.50" x2="457.3" y2="1222.50" stroke="#7f7f7f" stroke-width="1"/>
<text x="447.2" y="1226.76" font-size="11.0" text-anchor="end" fill="#111" stroke="#111" stroke-width="0.2">125</text>
<line x1="452.8" y1="1192.50" x2="457.3" y2="1192.50" stroke="#7f7f7f" stroke-width="1"/>
<text x="447.2" y="1196.84" font-size="11.0" text-anchor="end" fill="#111" stroke="#111" stroke-width="0.2">150</text>
<line x1="452.8" y1="1163.50" x2="457.3" y2="1163.50" stroke="#7f7f7f" stroke-width="1"/>
<text x="447.2" y="1166.90" font-size="11.0" text-anchor="end" fill="#111" stroke="#111" stroke-width="0.2">175</text>
<line x1="481.50" y1="1372.57" x2="481.50" y2="1376.57" stroke="#7f7f7f" stroke-width="1"/>
<line x1="505.50" y1="1372.57" x2="505.50" y2="1376.57" stroke="#7f7f7f" stroke-width="1"/>
<line x1="529.50" y1="1372.57" x2="529.50" y2="1376.57" stroke="#7f7f7f" stroke-width="1"/>
<line x1="553.50" y1="1372.57" x2="553.50" y2="1376.57" stroke="#7f7f7f" stroke-width="1"/>
<line x1="577.50" y1="1372.57" x2="577.50" y2="1376.57" stroke="#7f7f7f" stroke-width="1"/>
<line x1="601.50" y1="1372.57" x2="601.50" y2="1376.57" stroke="#7f7f7f" stroke-width="1"/>
<line x1="625.50" y1="1372.57" x2="625.50" y2="1376.57" stroke="#7f7f7f" stroke-width="1"/>
<line x1="650.50" y1="1372.57" x2="650.50" y2="1376.57" stroke="#7f7f7f" stroke-width="1"/>
<line x1="674.50" y1="1372.57" x2="674.50" y2="1376.57" stroke="#7f7f7f" stroke-width="1"/>
<text transform="translate(463.85,1382.37) rotate(90)" font-size="10.7" fill="#111" stroke="#111" stroke-width="0.2" letter-spacing="0.30">IFN-α</text>
<text transform="translate(487.94,1382.37) rotate(90)" font-size="10.7" fill="#111" stroke="#111" stroke-width="0.2" letter-spacing="0.30">IFN-β</text>
<text transform="translate(512.02,1382.37) rotate(90)" font-size="10.7" fill="#111" stroke="#111" stroke-width="0.2" letter-spacing="0.30">IL-1α</text>
<text transform="translate(536.12,1382.37) rotate(90)" font-size="10.7" fill="#111" stroke="#111" stroke-width="0.2" letter-spacing="0.30">IL-6</text>
<text transform="translate(560.21,1382.37) rotate(90)" font-size="10.7" fill="#111" stroke="#111" stroke-width="0.2" letter-spacing="0.30">IL-8</text>
<text transform="translate(584.30,1382.37) rotate(90)" font-size="10.7" fill="#111" stroke="#111" stroke-width="0.2" letter-spacing="0.40">IP-10</text>
<text transform="translate(608.38,1382.37) rotate(90)" font-size="10.7" fill="#111" stroke="#111" stroke-width="0.2" letter-spacing="0.50">MIP-3α</text>
<text transform="translate(632.48,1382.37) rotate(90)" font-size="10.7" fill="#111" stroke="#111" stroke-width="0.2" letter-spacing="0.65">RANTES</text>
<text transform="translate(656.57,1382.37) rotate(90)" font-size="10.7" fill="#111" stroke="#111" stroke-width="0.2" letter-spacing="0.35">TNFα</text>
</svg>
</body></html>
